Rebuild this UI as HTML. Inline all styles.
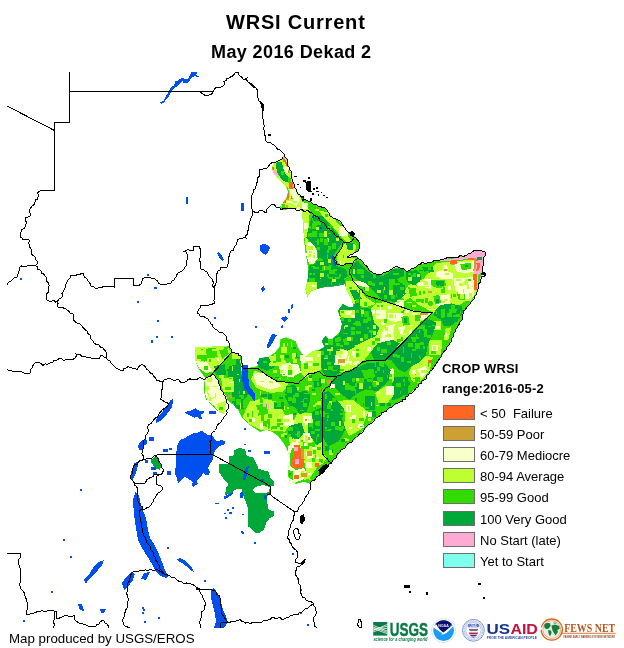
<!DOCTYPE html>
<html><head><meta charset="utf-8"><title>WRSI Current</title>
<style>
.t1,.t2,.lh,.lt,.ft,svg{will-change:transform}
html,body{margin:0;padding:0;background:#fff}
body{width:624px;height:648px;position:relative;overflow:hidden;font-family:"Liberation Sans",Arial,sans-serif;color:#000}
.t1{position:absolute;left:226px;top:9px;font-weight:bold;font-size:20px;letter-spacing:0.8px;line-height:26px;white-space:nowrap}
.t2{position:absolute;left:211px;top:40px;font-weight:bold;font-size:18px;letter-spacing:0.4px;line-height:24px;white-space:nowrap}
.lh{position:absolute;left:442px;font-weight:bold;font-size:13px;letter-spacing:0.2px;line-height:16px;white-space:nowrap}
.sw{position:absolute;left:443px;width:30px;height:13px;border:1px solid #6e6e6e}
.lt{position:absolute;left:480px;font-size:13px;line-height:16px;white-space:nowrap}
.ft{position:absolute;left:9px;top:631px;font-size:13.3px;line-height:16px;white-space:nowrap}
</style></head><body>
<svg width="624" height="648" viewBox="0 0 624 648" style="position:absolute;left:0;top:0" shape-rendering="crispEdges"><defs><clipPath id="land"><polygon points="283,156 286,158 288,163 290,170 292,176 293,182 295,188 297,192 300,195 303,198 308,201 312,203 318,206 325,208 328,212 332,217 338,220 342,224 345,228 348,232 352,234 356,238 359,242 360,247 358,251 354,253 350,255 347,257 350,257.5 355,256 358,258 361,260 364,264 368,268 372,272 376,274 382,274 386,272 392,269 398,267 402,268 406,271 410,270 414,268 418,265 424,263 430,262 436,261 440,260 444,259 450,258 456,257 462,256 468,254 472,252 475,250 478,250.5 482,251 485,252 485,256 483,260 483,266 482,272 480,280 479,286 477,292 475,296 472,301 468,306 465,310 462,315 462,320 458,326 455,332 452,338 450,343 446,350 440,358 432,370 424,380 416,388 408,396 400,402 392,407 384,412 376,418 370,424 364,430 358,436 352,442 346,446 340,452 336,458 332,462 328,466 324,470 320,474 316,478 312,481 310,484 304,482 296,484 290,482 288,476 288,468 290,460 288,452 284,444 278,436 272,432 266,430 260,432 254,428 248,424 242,418 238,410 232,404 227,400 224,414 218,412 212,406 206,400 204,392 204,384 205,378 198,368 195,360 195,347 228,346 229,346 232,352 238,353.5 241,356 243,368 247.7,368 257.3,366 259,358.5 269,356.5 274.6,352.7 279.4,347 280.4,339 286,337.3 295.8,341 297.7,347 301.5,352.7 305.4,356.5 313,350.8 319,350 324.6,347 321.7,341 325.6,335.4 330.4,341 334,337.3 340,331.5 342,324 340,318 338,310.4 343,303.7 347.7,306.5 353.5,306.5 351.5,299 346.7,291 344.8,284.4 336,286.3 324.6,287.3 317,289 311,291 307.3,297 305.4,289 307.3,281.5 308.3,270 307,262 305,250 304,240 303,225 302,212 300,210 296,208.5 290,208 286,210 282,210 280,207 282,203 285,200 287,196 288,192 286,187 283,183 279,180 276,176 273,172 272,168 273,164 277,162 281,160"/></clipPath></defs><g clip-path="url(#land)"><polygon points="283,156 286,158 288,163 290,170 292,176 293,182 295,188 297,192 300,195 303,198 308,201 312,203 318,206 325,208 328,212 332,217 338,220 342,224 345,228 348,232 352,234 356,238 359,242 360,247 358,251 354,253 350,255 347,257 350,257.5 355,256 358,258 361,260 364,264 368,268 372,272 376,274 382,274 386,272 392,269 398,267 402,268 406,271 410,270 414,268 418,265 424,263 430,262 436,261 440,260 444,259 450,258 456,257 462,256 468,254 472,252 475,250 478,250.5 482,251 485,252 485,256 483,260 483,266 482,272 480,280 479,286 477,292 475,296 472,301 468,306 465,310 462,315 462,320 458,326 455,332 452,338 450,343 446,350 440,358 432,370 424,380 416,388 408,396 400,402 392,407 384,412 376,418 370,424 364,430 358,436 352,442 346,446 340,452 336,458 332,462 328,466 324,470 320,474 316,478 312,481 310,484 304,482 296,484 290,482 288,476 288,468 290,460 288,452 284,444 278,436 272,432 266,430 260,432 254,428 248,424 242,418 238,410 232,404 227,400 224,414 218,412 212,406 206,400 204,392 204,384 205,378 198,368 195,360 195,347 228,346 229,346 232,352 238,353.5 241,356 243,368 247.7,368 257.3,366 259,358.5 269,356.5 274.6,352.7 279.4,347 280.4,339 286,337.3 295.8,341 297.7,347 301.5,352.7 305.4,356.5 313,350.8 319,350 324.6,347 321.7,341 325.6,335.4 330.4,341 334,337.3 340,331.5 342,324 340,318 338,310.4 343,303.7 347.7,306.5 353.5,306.5 351.5,299 346.7,291 344.8,284.4 336,286.3 324.6,287.3 317,289 311,291 307.3,297 305.4,289 307.3,281.5 308.3,270 307,262 305,250 304,240 303,225 302,212 300,210 296,208.5 290,208 286,210 282,210 280,207 282,203 285,200 287,196 288,192 286,187 283,183 279,180 276,176 273,172 272,168 273,164 277,162 281,160" fill="#32dc00" /><polygon points="423.8,278.6 435.9,263.0 453.2,261.3 474.0,259.6 478.3,278.6 477.5,290.7 470.5,301.1 465.3,301.1 460.2,304.6 449.8,306.3 441.1,308.0 435.9,313.2 432.5,312.4 418.6,304.6 410.0,297.7 404.8,301.1 401.3,295.9 408.2,285.5" fill="#beff32" /><polygon points="384.0,302.0 418.6,311.8 431.6,312.7 418.6,325.3 410.0,334.0 401.3,344.4 390.9,354.8 384.0,356.0" fill="#beff32" /><polygon points="435.9,271.7 443.7,270.0 453.2,273.4 453.2,278.6 444.6,279.5 435.9,277.7" fill="#f8ffc8" /><polygon points="453.2,263.0 474.0,261.3 474.0,271.7 465.3,273.4 456.7,271.7" fill="#f8ffc8" /><polygon points="453.2,278.6 474.0,276.9 474.0,295.9 467.1,299.4 460.2,295.9 455.0,289.0" fill="#f8ffc8" /><polygon points="434.2,295.9 449.8,294.2 450.6,305.4 441.1,307.2 435.1,303.7" fill="#f8ffc8" /><polygon points="423.8,278.6 430.7,279.5 430.7,289.0 424.7,287.3" fill="#f8ffc8" /><polygon points="387.5,313.2 403.0,313.2 404.8,320.2 394.4,321.9 387.5,320.2" fill="#f8ffc8" /><polygon points="397.8,327.1 411.7,325.3 412.6,333.1 401.3,335.7" fill="#f8ffc8" /><polygon points="419.5,313.2 430.7,312.9 423.8,320.2 419.5,319.3" fill="#f8ffc8" /><polygon points="384.0,325.3 392.7,327.1 394.4,340.9 387.5,346.1 384.0,346.1" fill="#f8ffc8" /><polygon points="430.7,279.5 444.6,279.5 446.3,285.5 441.1,288.1 434.2,287.3 430.7,284.7" fill="#32dc00" /><polygon points="460.2,263.9 470.5,263.0 471.4,269.1 461.9,270.0" fill="#32dc00" /><polygon points="408.2,287.3 416.0,288.1 416.9,295.9 410.0,296.8" fill="#32dc00" /><polygon points="433.3,295.9 439.4,295.1 441.1,302.8 435.1,304.6" fill="#32dc00" /><polygon points="456.7,293.3 464.5,294.2 465.3,300.2 458.4,299.4" fill="#32dc00" /><polygon points="401.3,316.7 408.2,315.8 410.0,325.3 403.0,326.2" fill="#32dc00" /><polygon points="384.0,275.2 390.9,273.4 396.1,276.9 397.8,281.2 404.8,285.5 405.6,294.2 400.4,299.4 396.1,297.7 392.7,301.1 387.5,299.4 384.0,301.1" fill="#00a83a" /><polygon points="406.5,271.7 416.9,270.0 421.2,275.2 420.3,281.2 414.3,285.5 408.2,282.9 405.6,278.6" fill="#00a83a" /><polygon points="422.1,267.4 432.5,266.5 434.2,271.7 425.5,273.4" fill="#00a83a" /><polygon points="435.9,281.2 443.7,281.2 443.7,286.4 436.8,286.4" fill="#00a83a" /><polygon points="440.9,304.9 451.3,303.4 461.6,306.4 463.1,312.3 457.2,321.2 451.3,325.6 443.9,325.6 440.9,319.7 433.5,315.3 435.0,310.8" fill="#00a83a" /><polygon points="427.6,316.7 430.5,325.6 427.6,334.5 426.1,344.9 421.6,352.3 415.7,358.2 406.8,361.2 397.9,355.3 392.0,355.3 392.0,353.0 409.8,334.5 421.6,321.2" fill="#00a83a" /><polygon points="430.5,321.2 440.9,321.2 440.9,330.1 430.5,330.1" fill="#beff32" /><polygon points="429.0,340.4 442.4,340.4 440.9,355.3 429.0,355.3" fill="#beff32" /><polygon points="432.0,344.9 437.9,344.9 437.9,350.8 432.0,350.8" fill="#f8ffc8" /><polygon points="445.3,328.6 451.3,327.1 448.3,340.4 443.9,340.4" fill="#beff32" /><polygon points="428.3,361.9 432.0,361.9 432.0,364.1 428.3,364.1" fill="#ff6622" /><polygon points="425.3,364.1 428.3,364.1 428.3,366.4 425.3,366.4" fill="#cda033" /><polygon points="384.0,340.9 390.9,347.8 390.9,356.0 384.0,356.0" fill="#00a83a" /><polygon points="472.3,250.9 477.5,249.2 484.4,251.3 485.2,257.0 482.7,259.6 483.5,266.5 481.8,272.6 478.3,274.3 476.6,271.7 479.2,266.5 478.8,261.3 475.7,258.7 472.3,257.8 467.1,258.7 458.4,260.4 452.4,261.3 444.6,261.3 439.4,260.4 441.1,259.2 453.2,258.7 465.3,256.1" fill="#ffaad2" /><polygon points="450.6,259.9 458.4,259.6 458.4,261.3 450.6,261.7" fill="#ff6622" /><polygon points="475.7,258.7 479.2,261.3 479.5,266.5 477.5,272.6 476.6,278.6 476.6,289.0 474.0,289.9 474.0,278.6 474.9,271.7 476.6,266.5 475.7,261.3" fill="#ff6622" /><polygon points="478.3,257.0 481.8,257.0 481.8,259.6 478.3,259.6" fill="#00a83a" /><polygon points="450.6,262.2 455.0,262.2 455.0,264.8 450.6,264.8" fill="#cda033" /><polygon points="443.7,269.1 447.2,269.1 447.2,270.8 443.7,270.8" fill="#cda033" /><polygon points="428.1,290.7 431.6,290.7 431.6,292.5 428.1,292.5" fill="#cda033" /><polygon points="419.5,313.2 428.1,313.2 428.1,315.0 421.2,315.0 421.2,318.4 419.5,318.4" fill="#cda033" /><polygon points="473.7,259.6 475.7,259.6 475.7,271.7 474.0,271.7" fill="#cda033" /><polygon points="375.8,303.5 387.9,301.7 387.9,345.0 379.3,345.0 374.1,341.5 379.3,327.7 374.1,322.5 370.6,308.7" fill="#beff32" /><polygon points="336.0,350.2 346.4,348.5 356.8,345.0 367.2,339.8 375.8,336.3 377.5,343.3 370.6,351.9 363.7,360.6 353.3,368.4 346.4,371.0 336.0,375.3" fill="#beff32" /><polygon points="412.2,365.8 426.0,355.4 432.9,357.1 429.5,371.0 419.1,383.1 412.2,381.3 408.7,372.7" fill="#beff32" /><polygon points="384.5,369.2 393.1,367.5 394.8,381.3 386.2,383.1" fill="#beff32" /><polygon points="367.2,376.2 375.8,381.3 379.3,393.5 370.6,390.0 363.7,386.5" fill="#beff32" /><polygon points="336.0,396.9 346.4,396.9 353.3,407.3 346.4,412.0 336.0,412.0" fill="#beff32" /><polygon points="375.8,310.4 386.2,310.4 386.2,319.0 375.8,319.0" fill="#f8ffc8" /><polygon points="386.2,326.0 394.8,324.2 393.1,334.6 387.9,343.3 379.3,345.0 381.0,334.6" fill="#f8ffc8" /><polygon points="336.0,350.2 346.4,350.2 346.4,357.1 336.0,357.1" fill="#f8ffc8" /><polygon points="386.2,369.2 391.4,368.4 392.2,374.4 387.1,375.3" fill="#f8ffc8" /><polygon points="417.3,369.2 426.0,365.8 427.7,372.7 420.8,377.9" fill="#f8ffc8" /><polygon points="339.5,319.0 353.3,317.3 356.8,306.9 370.6,308.7 374.1,322.5 379.3,327.7 375.8,336.3 367.2,339.8 356.8,345.0 346.4,346.7 336.0,348.5 336.0,338.1 341.2,331.2" fill="#00a83a" /><polygon points="336.0,306.9 342.9,303.5 346.4,310.4 339.5,315.6 336.0,313.8" fill="#00a83a" /><polygon points="377.5,343.3 393.1,339.8 400.0,343.3 393.1,351.9 384.5,360.6 374.1,359.7 370.6,351.9" fill="#00a83a" /><polygon points="336.0,376.2 346.4,371.8 353.3,369.2 362.0,362.3 370.6,360.6 384.5,360.9 387.9,369.2 384.5,376.2 375.8,381.3 367.2,376.2 360.2,381.3 353.3,390.0 346.4,396.9 339.5,393.5 336.0,396.9" fill="#00a83a" /><polygon points="353.3,393.5 363.7,386.5 375.8,383.1 379.3,393.5 374.1,403.8 363.7,407.3 356.8,403.8" fill="#00a83a" /><polygon points="386.2,361.4 393.1,351.9 405.2,339.8 412.2,332.9 419.1,326.0 429.5,319.0 436.4,322.5 432.9,334.6 427.7,345.0 426.0,355.4 419.1,362.3 412.2,365.8 405.2,372.7 398.3,369.2 393.1,362.3" fill="#00a83a" /><polygon points="393.1,381.3 405.2,376.2 410.4,383.1 401.8,396.9 393.1,400.4 387.9,393.5" fill="#00a83a" /><polygon points="338.6,358.8 344.7,358.8 344.7,363.2 338.6,363.2" fill="#cda033" /><polygon points="427.7,359.7 432.1,359.7 432.1,363.2 427.7,363.2" fill="#ff6622" /><polygon points="254.5,370.6 266.6,374.9 277.0,381.3 289.1,382.4 283.9,391.4 270.1,393.1 256.2,387.9 251.0,379.3" fill="#beff32" /><polygon points="249.3,401.8 263.2,398.3 277.0,401.8 283.9,412.2 283.9,429.5 277.0,431.2 259.7,429.5 249.3,424.3 242.4,417.3" fill="#beff32" /><polygon points="297.8,412.2 308.2,413.9 322.0,412.2 322.0,448.0 290.8,448.0 289.1,439.8 290.8,426.0" fill="#beff32" /><polygon points="273.5,353.3 282.2,356.8 287.4,363.7 278.7,365.4 273.5,362.0" fill="#beff32" /><polygon points="301.2,363.7 316.8,362.0 320.3,371.5 313.3,373.2 304.7,378.4 301.2,372.3" fill="#beff32" /><polygon points="232.0,353.3 239.8,353.3 240.7,362.0 243.2,368.0 242.4,370.6 232.0,370.6" fill="#beff32" /><polygon points="278.7,365.4 297.8,363.7 301.2,372.3 290.8,377.5 280.5,374.1" fill="#f8ffc8" /><polygon points="299.5,355.0 315.1,353.3 316.8,362.0 301.2,363.7" fill="#f8ffc8" /><polygon points="252.8,374.1 263.2,372.3 277.0,381.9 282.2,386.2 270.1,389.7 256.2,384.5" fill="#f8ffc8" /><polygon points="282.2,415.6 292.6,413.9 294.3,426.0 283.9,427.7" fill="#f8ffc8" /><polygon points="334.1,355.0 340.0,355.0 340.0,365.4 334.1,365.4" fill="#f8ffc8" /><polygon points="328.9,382.7 335.8,381.0 335.8,387.9 330.7,387.9" fill="#f8ffc8" /><polygon points="258.0,356.8 271.8,356.8 275.3,367.2 266.6,370.6 258.0,367.2" fill="#00a83a" /><polygon points="232.0,370.6 240.7,370.6 241.5,381.0 249.3,393.1 242.4,401.8 232.0,403.5" fill="#00a83a" /><polygon points="318.5,339.5 328.9,336.0 340.0,336.0 340.0,353.3 334.1,355.0 334.1,365.4 340.0,365.4 340.0,373.2 335.8,376.2 325.5,375.8 322.0,370.6 318.5,353.3" fill="#00a83a" /><polygon points="323.7,393.1 340.0,393.1 340.0,408.7 325.5,408.7 326.3,417.3 340.0,417.3 340.0,448.0 323.7,448.0" fill="#00a83a" /><polygon points="286.3,386.3 295.2,384.8 298.1,392.2 307.0,390.7 310.0,399.6 307.0,411.5 299.6,414.4 295.2,407.0 289.3,405.6 284.8,396.7" fill="#00a83a" /><polygon points="313.0,378.9 320.4,377.4 321.9,386.3 314.4,387.8" fill="#00a83a" /><polygon points="304.1,413.0 314.4,413.0 314.4,429.3 305.6,429.3" fill="#beff32" /><polygon points="270.0,418.9 284.8,414.4 289.3,424.8 284.8,432.2 277.4,429.3 270.0,429.3" fill="#beff32" /><polygon points="308.2,419.1 322.0,415.6 322.0,432.9 315.1,439.8 308.2,432.9" fill="#00a83a" /><polygon points="289.1,426.0 301.2,422.5 304.7,432.9 297.8,439.8 289.1,436.4" fill="#00a83a" /><polygon points="256.2,405.2 266.6,403.5 268.3,413.9 258.0,415.6" fill="#32dc00" /><polygon points="266.6,419.1 277.0,417.3 278.7,427.7 268.3,428.6" fill="#32dc00" /><polygon points="301.2,439.8 308.2,439.8 308.2,448.0 301.2,448.0" fill="#32dc00" /><polygon points="263.2,402.6 265.7,402.6 265.7,407.0 263.2,407.0" fill="#ffaad2" /><polygon points="267.5,404.4 269.2,404.4 269.2,410.4 267.5,410.4" fill="#ffaad2" /><polygon points="327.2,380.1 331.5,380.1 331.5,383.6 327.2,383.6" fill="#cda033" /><polygon points="304.7,419.1 308.2,419.1 308.2,420.8 304.7,420.8" fill="#cda033" /><polygon points="307.3,436.4 309.9,436.4 309.9,439.8 307.3,439.8" fill="#cda033" /><polygon points="337.6,358.5 340.0,358.5 340.0,363.7 337.6,363.7" fill="#cda033" /><polygon points="318.5,388.8 322.0,388.8 322.0,391.0 318.5,391.0" fill="#ff6622" /><polygon points="294.3,445.0 299.5,445.0 299.5,448.0 294.3,448.0" fill="#ff6622" /><polygon points="195.2,346.9 227.2,346.1 231.5,353.0 212.5,372.0 205.6,372.9 199.5,368.6 195.2,360.8" fill="#beff32" /><polygon points="205.6,348.7 216.0,347.8 217.7,357.3 207.3,358.2" fill="#32dc00" /><polygon points="219.4,350.4 227.2,348.7 228.9,353.8 222.0,359.0" fill="#32dc00" /><polygon points="195.2,360.8 207.3,362.5 212.5,371.2 205.6,372.9 199.5,368.6" fill="#f8ffc8" /><polygon points="205.6,378.9 212.5,373.7 218.6,380.7 220.3,388.5 224.6,393.7 227.2,398.8 228.1,409.2 224.6,416.2 219.4,412.7 214.2,405.8 207.3,400.6 204.7,391.9" fill="#f8ffc8" /><polygon points="216.0,404.0 227.2,400.6 228.1,409.2 224.6,416.2 219.4,412.7" fill="#beff32" /><polygon points="231.5,359.0 240.2,359.0 241.1,371.2 233.3,372.0" fill="#00a83a" /><polygon points="235.0,374.6 241.9,374.6 243.7,390.2 236.7,390.2" fill="#00a83a" /><polygon points="233.3,398.8 241.9,398.8 243.7,409.2 235.0,409.2" fill="#00a83a" /><polygon points="214.2,366.0 224.6,364.2 226.3,374.6 216.0,375.5" fill="#00a83a" /><polygon points="221.2,378.1 233.3,377.2 234.1,391.9 222.9,391.9" fill="#beff32" /><polygon points="231.5,353.8 240.2,353.8 240.2,359.0 231.5,359.0" fill="#beff32" /><polygon points="228.1,394.5 232.4,394.5 232.4,398.0 228.1,398.0" fill="#cda033" /><polygon points="270.0,416.0 283.8,416.0 287.3,426.3 276.9,430.7 270.0,429.8" fill="#beff32" /><polygon points="304.6,440.2 321.9,440.2 321.9,450.6 327.1,458.4 321.9,464.4 311.5,466.2 304.6,459.2" fill="#beff32" /><polygon points="327.1,400.4 339.2,402.1 335.8,414.2 323.7,416.0" fill="#beff32" /><polygon points="346.2,403.8 360.0,400.4 366.9,410.8 356.5,424.6 346.2,419.4" fill="#beff32" /><polygon points="286.4,476.5 302.9,471.3 311.5,480.0 304.6,478.3 296.0,482.6 290.8,484.3" fill="#beff32" /><polygon points="300.0,442.0 316.0,444.0 318.0,466.0 310.0,478.0 304.0,480.0 306.0,470.0 304.0,460.0" fill="#beff32" /><polygon points="287.5,447.0 292.0,442.0 298.0,442.0 300.0,446.0 292.0,448.0 290.0,455.0 290.0,466.0 296.0,470.0 304.0,468.0 306.0,472.0 303.0,480.0 291.0,483.0 287.5,476.5 288.0,468.0" fill="#f8ffc8" /><polygon points="306.0,452.0 312.0,452.0 313.0,458.0 307.0,459.0" fill="#f8ffc8" /><polygon points="306.0,462.0 312.0,462.0 312.0,468.0 306.0,468.0" fill="#f8ffc8" /><polygon points="283.0,416.0 292.5,416.0 292.5,424.6 283.8,426.3" fill="#f8ffc8" /><polygon points="302.9,416.0 313.3,416.0 313.3,422.9 302.9,422.9" fill="#f8ffc8" /><polygon points="302.9,433.3 311.5,433.3 311.5,441.9 302.9,441.9" fill="#f8ffc8" /><polygon points="347.9,405.6 354.8,405.6 354.8,412.5 347.9,412.5" fill="#f8ffc8" /><polygon points="366.9,410.8 373.8,409.0 373.8,416.0 366.9,417.7" fill="#f8ffc8" /><polygon points="356.5,424.6 363.5,422.9 363.5,428.1 356.5,428.9" fill="#f8ffc8" /><polygon points="311.5,412.5 321.9,407.3 321.9,441.9 316.7,445.4 309.8,435.0 311.5,422.9" fill="#00a83a" /><polygon points="289.0,426.3 301.2,424.6 302.9,435.0 292.5,438.5 288.2,433.3" fill="#00a83a" /><polygon points="323.7,393.5 328.8,400.4 327.1,400.4 323.7,416.0 335.8,414.2 339.2,402.1 342.7,390.0 366.9,390.0 373.8,400.4 366.9,410.8 360.0,400.4 346.2,403.8 346.2,419.4 356.5,424.6 353.1,424.6 351.3,431.5 342.7,435.0 339.2,447.1 330.6,454.0 323.7,450.6" fill="#00a83a" /><polygon points="296.0,393.5 309.8,393.5 309.8,400.4 296.0,400.4" fill="#00a83a" /><polygon points="273.5,402.1 283.8,402.1 283.8,409.0 273.5,409.0" fill="#00a83a" /><polygon points="287.3,469.6 292.5,471.3 292.5,480.0 287.3,476.5" fill="#32dc00" /><polygon points="294.2,445.4 300.3,445.4 301.2,455.8 304.6,459.2 302.9,467.9 296.0,468.7 291.6,466.2 291.6,459.2 294.2,454.0" fill="#ff6622" /><polygon points="294.2,447.1 297.7,447.1 297.7,450.6 294.2,450.6" fill="#ffaad2" /><polygon points="295.1,459.2 299.4,459.2 299.4,463.6 295.1,463.6" fill="#ffaad2" /><polygon points="315.0,462.7 318.5,462.7 318.5,467.0 315.0,467.0" fill="#ff6622" /><polygon points="294.2,474.8 298.6,474.8 298.6,479.1 294.2,479.1" fill="#ff6622" /><polygon points="290.8,482.6 292.5,482.6 292.5,485.2 290.8,485.2" fill="#ffaad2" /><polygon points="307.2,451.4 311.5,451.4 311.5,455.8 307.2,455.8" fill="#cda033" /><polygon points="301.2,448.8 303.7,448.8 303.7,459.2 301.2,459.2" fill="#cda033" /><polygon points="304.6,418.6 307.2,418.6 307.2,421.2 304.6,421.2" fill="#cda033" /><polygon points="308.1,436.7 310.2,436.7 310.2,440.2 308.1,440.2" fill="#cda033" /><polygon points="301.2,473.1 307.2,473.1 307.2,476.5 301.2,476.5" fill="#cda033" /><polygon points="301.2,200.0 309.8,210.4 308.1,239.8 306.4,251.9 302.9,226.0 302.1,210.4" fill="#beff32" /><polygon points="302.9,269.2 311.6,283.1 318.5,286.5 311.6,291.7 307.2,297.8 304.7,290.0 306.4,276.2" fill="#beff32" /><polygon points="339.3,250.2 346.2,241.5 356.6,245.0 354.8,251.9 346.2,257.1 356.6,258.8 353.1,264.0 339.3,264.9 336.7,258.8" fill="#beff32" /><polygon points="318.5,210.4 327.2,212.1 337.5,222.5 346.2,232.9 351.4,241.5 346.2,241.5 339.3,234.6 330.6,224.2 322.0,215.6" fill="#beff32" /><polygon points="346.2,281.3 354.8,281.3 365.2,296.9 375.6,303.8 365.2,307.3 353.1,303.8 347.9,298.7 346.2,290.0" fill="#beff32" /><polygon points="339.3,226.0 347.9,226.0 347.9,236.3 339.3,236.3" fill="#f8ffc8" /><polygon points="307.2,241.5 313.3,243.3 316.8,250.2 317.6,258.8 313.3,264.0 309.0,264.0 306.4,255.4" fill="#f8ffc8" /><polygon points="354.8,281.3 365.2,281.3 372.2,286.5 365.2,287.4 356.6,284.8" fill="#f8ffc8" /><polygon points="392.9,298.7 404.0,300.4 404.0,307.3 396.4,305.6" fill="#f8ffc8" /><polygon points="301.2,201.7 308.1,203.5 308.1,208.7 302.1,208.7" fill="#f8ffc8" /><polygon points="311.6,217.3 322.0,215.6 330.6,226.0 339.3,236.3 342.7,241.5 335.8,251.9 332.3,257.1 335.8,265.8 346.2,269.2 347.9,276.2 342.7,279.6 335.8,283.1 327.2,284.8 318.5,286.5 311.6,283.1 308.1,276.2 309.0,265.8 315.0,264.0 318.5,257.1 316.8,248.5 311.6,243.3 306.4,238.1 308.1,229.4" fill="#00a83a" /><polygon points="351.4,267.5 356.6,260.6 365.2,269.2 372.2,274.4 384.3,276.2 392.9,269.2 404.0,269.2 404.0,276.2 394.7,279.6 392.9,291.7 399.8,296.9 396.4,302.1 382.5,300.4 375.6,293.5 365.2,283.1 356.6,279.6 351.4,274.4" fill="#00a83a" /><polygon points="349.7,290.0 356.6,290.0 361.8,298.7 354.8,300.4" fill="#00a83a" /><polygon points="346.2,243.3 353.1,243.3 353.1,250.2 347.9,250.2" fill="#00a83a" /><polygon points="322.0,265.8 330.6,265.8 330.6,274.4 322.0,274.4" fill="#32dc00" /><polygon points="282.8,155.8 285.1,156.9 288.0,162.7 290.4,168.5 292.7,175.5 293.8,183.6 297.3,190.5 300.8,196.3 302.5,210.2 294.4,209.0 284.0,209.0 280.5,206.7 281.7,204.4 284.0,199.8 288.0,196.3 289.2,190.5 286.3,188.2 283.4,184.7 280.5,181.2 277.0,177.8 272.4,173.1 271.8,167.4 273.6,162.7 279.4,161.0" fill="#beff32" /><polygon points="288.6,176.6 290.9,178.9 290.9,182.4 288.0,183.6 286.9,180.1" fill="#32dc00" /><polygon points="290.9,192.8 295.6,194.0 295.6,198.6 291.5,198.6" fill="#32dc00" /><polygon points="281.7,204.4 285.1,204.4 285.7,208.4 282.3,208.4" fill="#32dc00" /><polygon points="276.5,162.7 281.7,161.6 283.4,168.5 285.1,173.1 288.6,177.8 287.5,182.4 284.0,181.2 280.5,177.8 277.6,173.1 275.9,167.4" fill="#00a83a" /><polygon points="282.3,155.8 285.1,155.8 285.1,158.7 282.3,158.7" fill="#ffaad2" /><polygon points="272.4,169.7 275.3,169.7 277.0,173.1 277.6,176.6 274.7,174.9 272.4,172.6" fill="#ffaad2" /><polygon points="282.8,158.1 285.1,158.7 286.9,162.7 288.0,166.2 286.9,167.4 285.1,162.7 282.8,161.6" fill="#ff6622" /><polygon points="271.8,167.4 273.6,167.4 273.6,170.3 271.8,170.3" fill="#ff6622" /><polygon points="289.2,182.4 292.7,181.8 293.8,188.2 290.9,189.9 288.6,188.2" fill="#ff6622" /><polygon points="290.9,174.9 292.7,174.9 292.7,178.4 290.9,178.4" fill="#ff6622" /><polygon points="286.9,192.8 289.2,192.8 289.2,197.5 286.9,197.5" fill="#ff6622" /><polygon points="283.4,199.8 285.7,199.8 285.7,202.7 283.4,202.7" fill="#ff6622" /><polygon points="284.0,167.4 288.6,167.4 290.4,173.1 286.9,173.1 284.6,170.8" fill="#f8ffc8" /><polygon points="289.8,189.4 295.6,189.4 296.7,194.0 299.0,196.3 300.2,200.9 296.7,205.6 292.1,204.4 293.2,198.6 290.9,195.1 289.8,191.7" fill="#f8ffc8" /><polygon points="288.0,170.3 290.4,170.3 290.4,172.6 288.0,172.6" fill="#cda033" /><polygon points="285.7,187.0 288.0,187.0 288.0,188.8 285.7,188.8" fill="#cda033" /><polygon points="285.7,205.0 288.0,205.0 288.0,207.9 285.7,207.9" fill="#cda033" /><polygon points="285.7,198.0 288.6,198.0 288.6,200.3 285.7,200.3" fill="#cda033" /><polygon points="308.3,270.0 343.8,270.0 344.8,284.4 336.2,286.3 324.6,287.3 316.9,289.2 311.2,291.2 307.3,296.9 305.4,289.2 307.3,281.5" fill="#00a83a" /><polygon points="305.4,281.5 316.9,281.5 316.9,295.0 307.3,296.9 305.4,289.2" fill="#beff32" /><polygon points="342.9,303.7 347.7,306.5 353.5,306.5 360.0,289.2 360.0,335.4 347.7,337.3 340.0,331.5 341.9,323.8 340.0,318.1 338.1,310.4" fill="#00a83a" /><polygon points="340.0,310.4 355.4,310.4 355.4,318.1 340.0,318.1" fill="#beff32" /><polygon points="321.7,341.2 325.6,335.4 330.4,341.2 340.0,333.5 347.7,337.3 355.4,346.9 347.7,350.8 336.2,346.9 334.2,366.2 324.6,366.2 322.7,356.5 318.8,349.8" fill="#00a83a" /><polygon points="336.2,350.8 347.7,350.8 349.6,362.3 343.8,366.2 336.2,362.3" fill="#f8ffc8" /><polygon points="338.1,358.5 344.8,358.5 344.8,363.3 338.1,363.3" fill="#cda033" /><polygon points="305.4,350.8 320.8,350.8 320.8,370.0 305.4,370.0" fill="#beff32" /><polygon points="268.8,356.5 284.2,354.6 284.2,366.2 268.8,366.2" fill="#beff32" /><polygon points="278.5,366.2 290.0,362.3 297.7,370.0 293.8,377.7 282.3,375.8" fill="#f8ffc8" /><polygon points="299.6,356.5 313.1,356.5 313.1,361.3 299.6,361.3" fill="#f8ffc8" /><polygon points="259.2,358.5 268.8,356.5 270.8,362.3 261.2,366.2" fill="#00a83a" /><polygon points="473.8,261.4 481.9,261.4 482.5,269.4 480.7,272.9 478.4,275.2 473.8,275.8 474.4,270.6 476.1,268.3" fill="#ffaad2" /><polygon points="476.1,262.5 479.6,263.1 480.2,267.1 478.4,270.6 476.1,270.6 477.3,267.1" fill="#ff6622" /><polygon points="473.3,274.1 477.3,274.6 476.7,290.2 474.4,289.6 473.6,282.1" fill="#ff6622" /><polygon points="450.2,260.8 457.1,260.8 457.1,264.3 450.2,264.3" fill="#ff6622" /><polygon points="468.1,257.9 472.7,257.9 472.7,259.6 468.1,259.6" fill="#ff6622" /><polygon points="473.8,257.9 475.6,257.9 476.1,266.0 474.4,270.6 473.3,270.6 474.4,264.8" fill="#cda033" /><polygon points="477.3,256.8 481.3,256.8 481.3,259.6 477.3,259.6" fill="#00a83a" /><polygon points="335.3,375.9 340.5,372.5 352.6,369.9 363.0,362.9 375.1,360.3 392.4,360.0 392.4,405.0 369.9,418.8 352.6,436.2 331.8,462.1 322.7,453.5 322.7,392.4 328.4,386.3" fill="#32dc00" /><polygon points="328.4,401.5 352.6,399.8 368.2,411.9 361.3,429.2 349.2,436.2 344.0,425.8 345.7,411.9 335.3,406.7" fill="#beff32" /><polygon points="375.1,392.9 385.5,386.0 394.2,394.6 387.2,403.3 378.6,403.3" fill="#beff32" /><polygon points="345.7,405.0 350.9,405.0 350.9,411.9 345.7,411.9" fill="#f8ffc8" /><polygon points="357.8,424.0 363.0,424.0 363.0,427.5 357.8,427.5" fill="#f8ffc8" /><polygon points="368.2,411.9 371.7,411.9 371.7,417.1 368.2,417.1" fill="#f8ffc8" /><polygon points="383.8,368.7 394.2,368.7 394.2,373.8 383.8,373.8" fill="#f8ffc8" /><polygon points="385.5,386.0 394.2,386.0 394.2,394.6 385.5,394.6" fill="#f8ffc8" /><polygon points="337.0,375.6 352.6,369.5 366.5,363.5 383.8,361.7 390.7,370.4 387.2,382.5 376.8,391.2 366.5,389.4 357.8,392.9 349.2,399.8 342.2,394.6 335.3,387.7 330.1,389.4 328.4,386.0 335.3,375.9" fill="#00a83a" /><polygon points="361.3,370.4 373.4,368.7 375.1,377.3 364.7,379.0" fill="#32dc00" /><polygon points="323.2,392.9 328.4,391.2 335.3,398.1 344.0,408.5 342.2,418.8 345.7,429.2 338.8,441.3 328.4,446.5 323.2,437.9" fill="#00a83a" /><polygon points="364.7,396.3 375.1,396.3 375.1,410.2 364.7,410.2" fill="#00a83a" /><polygon points="394.2,377.3 408.0,377.3 408.0,394.6 394.2,394.6" fill="#00a83a" /><polygon points="328.4,380.8 331.8,379.9 331.8,383.4 328.4,384.2" fill="#cda033" /><polygon points="330.1,384.2 335.3,383.4 335.3,387.7 330.1,388.6" fill="#f8ffc8" /></g><path fill="#f8ffc8" d="M286.67 200.67h5.33v2.67h-5.33zM297.33 207.33h2.67v1.33h-2.67zM304 223.33h4.00v5.33h-4.00zM340 260.67h1.33v4.00h-1.33zM442.67 264.67h4.00v2.67h-4.00zM442.67 267.33h5.33v1.33h-5.33zM418.67 282h5.33v4.00h-5.33zM417.33 283.33h5.33v2.67h-5.33zM312 284.67h4.00v2.67h-4.00zM448 286h2.67v4.00h-2.67zM388 306h4.00v2.67h-4.00zM380 307.33h1.33v2.67h-1.33zM428 308.67h2.67v1.33h-2.67zM433.33 308.67h2.67v1.33h-2.67zM350.67 310h1.33v2.67h-1.33zM353.33 310h1.33v1.33h-1.33zM372 310h2.67v4.00h-2.67zM405.33 310h4.00v2.67h-4.00zM345.33 311.33h5.33v4.00h-5.33zM412 312.67h5.33v2.67h-5.33zM350.67 315.33h4.00v2.67h-4.00zM382.67 320.67h5.33v2.67h-5.33zM381.33 322h4.00v2.67h-4.00zM436 326h4.00v2.67h-4.00zM445.33 332.67h1.33v4.00h-1.33zM438.67 344.67h1.33v2.67h-1.33zM366.67 347.33h4.00v4.00h-4.00zM352 351.33h4.00v4.00h-4.00zM317.33 354h2.67v2.67h-2.67zM353.33 355.33h2.67v2.67h-2.67zM217.33 358h1.33v2.67h-1.33zM349.33 360.67h2.67v4.00h-2.67zM354.67 360.67h4.00v2.67h-4.00zM353.33 362h4.00v2.67h-4.00zM308 363.33h4.00v2.67h-4.00zM412 370h4.00v4.00h-4.00zM229.33 382h4.00v1.33h-4.00zM377.33 391.33h2.67v1.33h-2.67zM362.67 411.33h2.67v5.33h-2.67zM250.67 412.67h2.67v1.33h-2.67zM278.67 415.33h1.33v4.00h-1.33zM352 415.33h4.00v4.00h-4.00zM349.33 416.67h4.00v2.67h-4.00zM250.67 418h4.00v4.00h-4.00zM294.67 419.33h1.33v2.67h-1.33zM260 423.33h2.67v5.33h-2.67zM305.33 423.33h2.67v1.33h-2.67zM254.67 424.67h2.67v1.33h-2.67zM349.33 427.33h2.67v1.33h-2.67zM296 439.33h4.00v2.67h-4.00zM304 443.33h2.67v2.67h-2.67zM312 447.33h5.33v1.33h-5.33zM316 456.67h2.67v2.67h-2.67zM470.67 470h2.67v4.00h-2.67zM465.33 471.33h5.33v4.00h-5.33zM308 472.67h4.00v2.67h-4.00zM458.67 472.67h4.00v5.33h-4.00z"/><path fill="#beff32" d="M293.33 200.67h4.00v2.67h-4.00zM306.67 206h1.33v1.33h-1.33zM314.67 208.67h4.00v2.67h-4.00zM316 227.33h2.67v2.67h-2.67zM324 231.33h2.67v5.33h-2.67zM326.67 238h2.67v4.00h-2.67zM336 238h2.67v2.67h-2.67zM308 246h5.33v4.00h-5.33zM309.33 251.33h2.67v1.33h-2.67zM313.33 252.67h1.33v1.33h-1.33zM308 254h2.67v2.67h-2.67zM313.33 255.33h1.33v2.67h-1.33zM328 259.33h2.67v4.00h-2.67zM320 262h4.00v2.67h-4.00zM324 266h1.33v4.00h-1.33zM353.33 268.67h1.33v5.33h-1.33zM320 272.67h4.00v4.00h-4.00zM445.33 272.67h4.00v2.67h-4.00zM417.33 274h2.67v2.67h-2.67zM408 276.67h4.00v4.00h-4.00zM436 276.67h2.67v1.33h-2.67zM320 278h1.33v1.33h-1.33zM332 279.33h4.00v2.67h-4.00zM456 279.33h5.33v1.33h-5.33zM465.33 279.33h2.67v4.00h-2.67zM424 280.67h4.00v4.00h-4.00zM464 280.67h4.00v4.00h-4.00zM458.67 283.33h4.00v2.67h-4.00zM466.67 284.67h2.67v4.00h-2.67zM425.33 286h4.00v1.33h-4.00zM472 286h1.33v1.33h-1.33zM365.33 287.33h4.00v4.00h-4.00zM384 287.33h1.33v2.67h-1.33zM462.67 288.67h1.33v4.00h-1.33zM377.33 290h4.00v2.67h-4.00zM389.33 290h4.00v5.33h-4.00zM469.33 292.67h2.67v4.00h-2.67zM402.67 294h1.33v1.33h-1.33zM460 294h4.00v5.33h-4.00zM444 299.33h2.67v1.33h-2.67zM397.33 300.67h2.67v2.67h-2.67zM441.33 300.67h4.00v2.67h-4.00zM406.67 302h5.33v1.33h-5.33zM412 304.67h4.00v2.67h-4.00zM361.33 310h2.67v4.00h-2.67zM376 314h4.00v1.33h-4.00zM389.33 314h4.00v4.00h-4.00zM394.67 315.33h1.33v2.67h-1.33zM345.33 324.67h2.67v2.67h-2.67zM373.33 324.67h2.67v4.00h-2.67zM404 324.67h4.00v1.33h-4.00zM344 326h1.33v2.67h-1.33zM405.33 326h5.33v4.00h-5.33zM385.33 327.33h2.67v4.00h-2.67zM404 328.67h5.33v5.33h-5.33zM373.33 331.33h2.67v4.00h-2.67zM402.67 331.33h5.33v2.67h-5.33zM386.67 334h4.00v1.33h-4.00zM385.33 335.33h5.33v1.33h-5.33zM346.67 336.67h4.00v4.00h-4.00zM360 338h2.67v2.67h-2.67zM382.67 340.67h1.33v1.33h-1.33zM290.67 342h1.33v5.33h-1.33zM282.67 343.33h2.67v4.00h-2.67zM286.67 343.33h1.33v2.67h-1.33zM325.33 343.33h4.00v1.33h-4.00zM433.33 346h2.67v4.00h-2.67zM281.33 347.33h5.33v5.33h-5.33zM330.67 347.33h2.67v4.00h-2.67zM212 348.67h4.00v2.67h-4.00zM326.67 348.67h4.00v2.67h-4.00zM336 351.33h2.67v4.00h-2.67zM340 351.33h2.67v2.67h-2.67zM292 352.67h4.00v4.00h-4.00zM340 354h1.33v4.00h-1.33zM380 354h2.67v1.33h-2.67zM338.67 355.33h2.67v1.33h-2.67zM346.67 355.33h1.33v2.67h-1.33zM292 356.67h2.67v2.67h-2.67zM324 358h4.00v1.33h-4.00zM345.33 358h1.33v2.67h-1.33zM293.33 359.33h4.00v4.00h-4.00zM288 364.67h4.00v5.33h-4.00zM324 368.67h2.67v1.33h-2.67zM273.33 370h4.00v2.67h-4.00zM280 370h2.67v2.67h-2.67zM292 370h1.33v4.00h-1.33zM421.33 370h5.33v2.67h-5.33zM237.33 374h1.33v1.33h-1.33zM218.67 375.33h5.33v2.67h-5.33zM210.67 376.67h1.33v2.67h-1.33zM308 376.67h4.00v4.00h-4.00zM389.33 376.67h2.67v2.67h-2.67zM206.67 378h5.33v4.00h-5.33zM278.67 378h2.67v1.33h-2.67zM286.67 378h1.33v1.33h-1.33zM356 378h2.67v2.67h-2.67zM238.67 379.33h1.33v2.67h-1.33zM321.33 379.33h4.00v4.00h-4.00zM261.33 380.67h2.67v1.33h-2.67zM269.33 380.67h4.00v2.67h-4.00zM342.67 380.67h2.67v4.00h-2.67zM373.33 380.67h5.33v4.00h-5.33zM358.67 383.33h4.00v5.33h-4.00zM308 384.67h4.00v2.67h-4.00zM205.33 386h2.67v5.33h-2.67zM208 386h1.33v4.00h-1.33zM213.33 386h4.00v1.33h-4.00zM305.33 386h2.67v4.00h-2.67zM297.33 387.33h1.33v2.67h-1.33zM308 387.33h1.33v4.00h-1.33zM206.67 391.33h1.33v2.67h-1.33zM242.67 391.33h2.67v2.67h-2.67zM260 391.33h1.33v4.00h-1.33zM208 392.67h1.33v4.00h-1.33zM214.67 392.67h1.33v5.33h-1.33zM312 392.67h4.00v2.67h-4.00zM334.67 392.67h5.33v2.67h-5.33zM209.33 396.67h2.67v4.00h-2.67zM213.33 396.67h1.33v1.33h-1.33zM212 398h1.33v1.33h-1.33zM317.33 400.67h4.00v4.00h-4.00zM329.33 400.67h2.67v4.00h-2.67zM370.67 402h1.33v4.00h-1.33zM240 403.33h1.33v5.33h-1.33zM314.67 403.33h5.33v1.33h-5.33zM313.33 404.67h2.67v2.67h-2.67zM376 404.67h2.67v1.33h-2.67zM284 406h1.33v4.00h-1.33zM348 406h1.33v5.33h-1.33zM286.67 407.33h2.67v1.33h-2.67zM257.33 410h1.33v2.67h-1.33zM368 418h2.67v2.67h-2.67zM284 419.33h5.33v2.67h-5.33zM308 419.33h1.33v1.33h-1.33zM310.67 419.33h1.33v2.67h-1.33zM312 419.33h1.33v4.00h-1.33zM338.67 420.67h2.67v5.33h-2.67zM282.67 432.67h4.00v2.67h-4.00zM281.33 434h2.67v2.67h-2.67zM305.33 435.33h1.33v2.67h-1.33zM305.33 438h2.67v4.00h-2.67zM344 438h2.67v1.33h-2.67zM345.33 439.33h4.00v1.33h-4.00zM446.67 448.67h5.33v1.33h-5.33zM465.33 448.67h1.33v2.67h-1.33zM329.33 450h4.00v5.33h-4.00zM457.33 450h4.00v4.00h-4.00zM470.67 450h1.33v4.00h-1.33zM446.67 451.33h5.33v2.67h-5.33zM458.67 455.33h2.67v2.67h-2.67zM469.33 458h2.67v2.67h-2.67zM301.33 471.33h2.67v1.33h-2.67zM300 472.67h1.33v5.33h-1.33z"/><path fill="#32dc00" d="M281.33 171.33h2.67v4.00h-2.67zM325.33 214h2.67v2.67h-2.67zM312 218h1.33v2.67h-1.33zM313.33 220.67h4.00v5.33h-4.00zM317.33 220.67h4.00v4.00h-4.00zM312 223.33h4.00v5.33h-4.00zM309.33 226h1.33v2.67h-1.33zM328 226h2.67v4.00h-2.67zM312 231.33h5.33v5.33h-5.33zM308 232.67h4.00v4.00h-4.00zM318.67 232.67h5.33v4.00h-5.33zM328 232.67h2.67v1.33h-2.67zM320 238h2.67v4.00h-2.67zM317.33 239.33h1.33v5.33h-1.33zM324 239.33h4.00v5.33h-4.00zM314.67 240.67h2.67v1.33h-2.67zM332 243.33h4.00v1.33h-4.00zM332 244.67h4.00v4.00h-4.00zM328 246h2.67v4.00h-2.67zM317.33 247.33h2.67v2.67h-2.67zM326.67 250h2.67v2.67h-2.67zM326.67 254h1.33v5.33h-1.33zM342.67 255.33h1.33v2.67h-1.33zM318.67 258h2.67v1.33h-2.67zM317.33 259.33h5.33v1.33h-5.33zM329.33 264.67h2.67v1.33h-2.67zM310.67 266h4.00v1.33h-4.00zM313.33 267.33h5.33v1.33h-5.33zM428 267.33h2.67v2.67h-2.67zM333.33 268.67h4.00v2.67h-4.00zM357.33 268.67h5.33v5.33h-5.33zM320 270h5.33v1.33h-5.33zM329.33 270h5.33v4.00h-5.33zM362.67 270h1.33v4.00h-1.33zM425.33 271.33h4.00v1.33h-4.00zM309.33 272.67h2.67v2.67h-2.67zM313.33 272.67h1.33v2.67h-1.33zM393.33 272.67h5.33v2.67h-5.33zM408 272.67h2.67v2.67h-2.67zM413.33 272.67h2.67v4.00h-2.67zM326.67 274h2.67v2.67h-2.67zM334.67 274h2.67v1.33h-2.67zM338.67 274h2.67v2.67h-2.67zM361.33 275.33h2.67v2.67h-2.67zM373.33 275.33h2.67v2.67h-2.67zM410.67 275.33h2.67v1.33h-2.67zM328 276.67h5.33v1.33h-5.33zM334.67 276.67h5.33v2.67h-5.33zM309.33 278h5.33v4.00h-5.33zM329.33 278h4.00v1.33h-4.00zM389.33 279.33h5.33v5.33h-5.33zM468 279.33h2.67v1.33h-2.67zM330.67 280.67h1.33v4.00h-1.33zM368 280.67h4.00v4.00h-4.00zM378.67 282h4.00v2.67h-4.00zM338.67 283.33h1.33v1.33h-1.33zM372 283.33h2.67v2.67h-2.67zM394.67 283.33h5.33v1.33h-5.33zM389.33 284.67h4.00v5.33h-4.00zM396 284.67h1.33v1.33h-1.33zM416 284.67h1.33v1.33h-1.33zM438.67 284.67h1.33v1.33h-1.33zM349.33 287.33h2.67v1.33h-2.67zM400 287.33h4.00v2.67h-4.00zM442.67 287.33h2.67v5.33h-2.67zM382.67 288.67h1.33v4.00h-1.33zM441.33 288.67h2.67v4.00h-2.67zM418.67 291.33h2.67v4.00h-2.67zM422.67 291.33h2.67v2.67h-2.67zM396 294h1.33v2.67h-1.33zM450.67 294h1.33v4.00h-1.33zM453.33 294h2.67v2.67h-2.67zM384 295.33h2.67v4.00h-2.67zM390.67 295.33h4.00v4.00h-4.00zM358.67 296.67h1.33v1.33h-1.33zM425.33 298h2.67v5.33h-2.67zM356 299.33h2.67v4.00h-2.67zM416 299.33h5.33v2.67h-5.33zM421.33 299.33h2.67v4.00h-2.67zM429.33 300.67h2.67v5.33h-2.67zM364 302h2.67v4.00h-2.67zM428 302h5.33v2.67h-5.33zM377.33 304.67h1.33v2.67h-1.33zM381.33 304.67h1.33v2.67h-1.33zM450.67 304.67h4.00v2.67h-4.00zM450.67 307.33h4.00v2.67h-4.00zM360 308.67h4.00v1.33h-4.00zM441.33 308.67h4.00v4.00h-4.00zM449.33 308.67h5.33v4.00h-5.33zM454.67 308.67h1.33v4.00h-1.33zM456 308.67h1.33v2.67h-1.33zM356 310h2.67v2.67h-2.67zM402.67 310h2.67v1.33h-2.67zM341.33 311.33h2.67v1.33h-2.67zM364 311.33h5.33v5.33h-5.33zM401.33 311.33h2.67v1.33h-2.67zM436 311.33h1.33v2.67h-1.33zM460 311.33h1.33v2.67h-1.33zM441.33 312.67h4.00v4.00h-4.00zM446.67 312.67h5.33v4.00h-5.33zM361.33 314h1.33v2.67h-1.33zM456 314h4.00v2.67h-4.00zM340 315.33h1.33v1.33h-1.33zM414.67 315.33h5.33v5.33h-5.33zM453.33 315.33h5.33v1.33h-5.33zM341.33 316.67h2.67v1.33h-2.67zM366.67 316.67h4.00v4.00h-4.00zM441.33 316.67h2.67v1.33h-2.67zM341.33 318h2.67v2.67h-2.67zM348 319.33h2.67v2.67h-2.67zM362.67 319.33h5.33v4.00h-5.33zM384 319.33h2.67v4.00h-2.67zM354.67 320.67h5.33v2.67h-5.33zM353.33 323.33h2.67v1.33h-2.67zM356 323.33h5.33v2.67h-5.33zM421.33 324.67h4.00v4.00h-4.00zM432 324.67h4.00v1.33h-4.00zM417.33 326h4.00v2.67h-4.00zM428 326h2.67v1.33h-2.67zM350.67 327.33h4.00v2.67h-4.00zM366.67 327.33h2.67v1.33h-2.67zM422.67 328.67h4.00v2.67h-4.00zM369.33 330h4.00v2.67h-4.00zM418.67 330h1.33v2.67h-1.33zM350.67 331.33h4.00v4.00h-4.00zM356 331.33h5.33v2.67h-5.33zM424 331.33h2.67v5.33h-2.67zM342.67 332.67h5.33v1.33h-5.33zM370.67 332.67h1.33v5.33h-1.33zM364 334h4.00v5.33h-4.00zM416 334h1.33v4.00h-1.33zM426.67 335.33h4.00v2.67h-4.00zM337.33 336.67h4.00v4.00h-4.00zM350.67 336.67h2.67v4.00h-2.67zM401.33 336.67h1.33v4.00h-1.33zM410.67 336.67h2.67v2.67h-2.67zM413.33 336.67h5.33v2.67h-5.33zM334.67 338h4.00v4.00h-4.00zM345.33 338h1.33v2.67h-1.33zM374.67 338h5.33v2.67h-5.33zM328 339.33h5.33v5.33h-5.33zM342.67 339.33h4.00v2.67h-4.00zM397.33 339.33h4.00v2.67h-4.00zM412 339.33h4.00v2.67h-4.00zM372 340.67h2.67v4.00h-2.67zM344 342h5.33v2.67h-5.33zM386.67 342h4.00v2.67h-4.00zM420 342h4.00v2.67h-4.00zM336 343.33h4.00v2.67h-4.00zM408 343.33h5.33v4.00h-5.33zM414.67 343.33h5.33v5.33h-5.33zM340 344.67h2.67v2.67h-2.67zM422.67 346h2.67v2.67h-2.67zM224 347.33h4.00v1.33h-4.00zM377.33 347.33h2.67v4.00h-2.67zM402.67 347.33h1.33v4.00h-1.33zM201.33 348.67h1.33v1.33h-1.33zM337.33 348.67h2.67v1.33h-2.67zM356 348.67h2.67v2.67h-2.67zM381.33 348.67h5.33v4.00h-5.33zM412 348.67h4.00v2.67h-4.00zM321.33 351.33h2.67v4.00h-2.67zM329.33 351.33h1.33v4.00h-1.33zM402.67 351.33h1.33v1.33h-1.33zM430.67 351.33h5.33v2.67h-5.33zM356 352.67h2.67v4.00h-2.67zM410.67 352.67h1.33v5.33h-1.33zM393.33 354h4.00v2.67h-4.00zM197.33 355.33h4.00v4.00h-4.00zM201.33 355.33h2.67v5.33h-2.67zM204 355.33h2.67v5.33h-2.67zM276 355.33h4.00v2.67h-4.00zM325.33 355.33h2.67v2.67h-2.67zM397.33 355.33h2.67v2.67h-2.67zM418.67 355.33h1.33v2.67h-1.33zM401.33 356.67h2.67v5.33h-2.67zM420 356.67h1.33v2.67h-1.33zM276 358h5.33v4.00h-5.33zM209.33 359.33h1.33v2.67h-1.33zM232 359.33h4.00v5.33h-4.00zM204 360.67h1.33v1.33h-1.33zM262.67 360.67h4.00v2.67h-4.00zM273.33 360.67h2.67v2.67h-2.67zM406.67 360.67h4.00v2.67h-4.00zM326.67 362h4.00v2.67h-4.00zM378.67 362h2.67v4.00h-2.67zM381.33 362h2.67v5.33h-2.67zM304 363.33h4.00v5.33h-4.00zM313.33 363.33h5.33v2.67h-5.33zM374.67 363.33h1.33v4.00h-1.33zM428 363.33h1.33v4.00h-1.33zM204 366h4.00v4.00h-4.00zM270.67 366h1.33v1.33h-1.33zM328 366h5.33v4.00h-5.33zM377.33 367.33h2.67v4.00h-2.67zM340 368.67h4.00v2.67h-4.00zM288 370h4.00v5.33h-4.00zM332 370h5.33v1.33h-5.33zM382.67 370h1.33v2.67h-1.33zM374.67 371.33h2.67v1.33h-2.67zM388 372.67h1.33v1.33h-1.33zM282.67 374h2.67v1.33h-2.67zM414.67 374h1.33v1.33h-1.33zM386.67 375.33h1.33v2.67h-1.33zM377.33 376.67h5.33v5.33h-5.33zM414.67 376.67h5.33v5.33h-5.33zM229.33 378h2.67v1.33h-2.67zM316 378h2.67v2.67h-2.67zM352 378h2.67v4.00h-2.67zM358.67 378h5.33v5.33h-5.33zM372 378h1.33v2.67h-1.33zM413.33 378h1.33v1.33h-1.33zM313.33 379.33h4.00v1.33h-4.00zM366.67 379.33h5.33v2.67h-5.33zM402.67 379.33h2.67v2.67h-2.67zM356 380.67h4.00v2.67h-4.00zM317.33 382h1.33v4.00h-1.33zM372 382h4.00v2.67h-4.00zM345.33 383.33h2.67v1.33h-2.67zM348 383.33h1.33v4.00h-1.33zM354.67 383.33h2.67v4.00h-2.67zM396 383.33h5.33v4.00h-5.33zM404 383.33h1.33v2.67h-1.33zM345.33 384.67h5.33v5.33h-5.33zM373.33 384.67h4.00v2.67h-4.00zM350.67 386h4.00v5.33h-4.00zM369.33 386h1.33v2.67h-1.33zM225.33 387.33h5.33v2.67h-5.33zM286.67 387.33h5.33v5.33h-5.33zM354.67 388.67h1.33v5.33h-1.33zM238.67 391.33h1.33v2.67h-1.33zM400 391.33h1.33v2.67h-1.33zM294.67 392.67h4.00v4.00h-4.00zM304 392.67h4.00v1.33h-4.00zM285.33 394h1.33v1.33h-1.33zM325.33 394h1.33v5.33h-1.33zM238.67 395.33h5.33v1.33h-5.33zM293.33 395.33h1.33v5.33h-1.33zM232 396.67h2.67v4.00h-2.67zM241.33 396.67h2.67v2.67h-2.67zM288 396.67h4.00v4.00h-4.00zM292 398h4.00v5.33h-4.00zM304 398h4.00v1.33h-4.00zM332 398h4.00v4.00h-4.00zM236 399.33h1.33v2.67h-1.33zM237.33 399.33h4.00v4.00h-4.00zM260 399.33h2.67v4.00h-2.67zM302.67 399.33h1.33v4.00h-1.33zM301.33 400.67h2.67v1.33h-2.67zM236 402h4.00v2.67h-4.00zM274.67 402h2.67v1.33h-2.67zM277.33 402h4.00v5.33h-4.00zM302.67 403.33h4.00v4.00h-4.00zM328 403.33h2.67v4.00h-2.67zM326.67 404.67h4.00v4.00h-4.00zM276 406h4.00v1.33h-4.00zM218.67 407.33h4.00v2.67h-4.00zM365.33 407.33h4.00v1.33h-4.00zM330.67 408.67h2.67v2.67h-2.67zM341.33 408.67h1.33v2.67h-1.33zM300 410h4.00v1.33h-4.00zM320 410h1.33v4.00h-1.33zM252 411.33h1.33v5.33h-1.33zM314.67 411.33h4.00v4.00h-4.00zM321.33 411.33h4.00v5.33h-4.00zM246.67 412.67h2.67v4.00h-2.67zM325.33 412.67h4.00v1.33h-4.00zM340 412.67h2.67v2.67h-2.67zM268 414h4.00v4.00h-4.00zM261.33 415.33h2.67v5.33h-2.67zM326.67 415.33h2.67v2.67h-2.67zM358.67 418h5.33v2.67h-5.33zM249.33 419.33h2.67v2.67h-2.67zM277.33 419.33h4.00v2.67h-4.00zM326.67 419.33h1.33v1.33h-1.33zM352 419.33h2.67v4.00h-2.67zM262.67 420.67h4.00v5.33h-4.00zM316 420.67h4.00v5.33h-4.00zM314.67 422h4.00v2.67h-4.00zM330.67 422h4.00v4.00h-4.00zM277.33 423.33h2.67v4.00h-2.67zM280 423.33h2.67v1.33h-2.67zM309.33 423.33h4.00v4.00h-4.00zM265.33 426h1.33v1.33h-1.33zM272 426h5.33v2.67h-5.33zM334.67 426h4.00v4.00h-4.00zM341.33 426h2.67v2.67h-2.67zM360 426h2.67v1.33h-2.67zM270.67 427.33h1.33v2.67h-1.33zM280 427.33h2.67v2.67h-2.67zM289.33 427.33h4.00v4.00h-4.00zM312 427.33h1.33v1.33h-1.33zM325.33 427.33h1.33v1.33h-1.33zM338.67 427.33h4.00v4.00h-4.00zM314.67 428.67h5.33v2.67h-5.33zM328 428.67h4.00v1.33h-4.00zM325.33 430h5.33v1.33h-5.33zM297.33 431.33h2.67v5.33h-2.67zM310.67 431.33h4.00v2.67h-4.00zM289.33 434h1.33v2.67h-1.33zM294.67 434h2.67v1.33h-2.67zM317.33 434h1.33v2.67h-1.33zM316 436.67h1.33v5.33h-1.33zM302.67 442h1.33v4.00h-1.33zM312 442h2.67v5.33h-2.67zM308 443.33h5.33v2.67h-5.33zM301.33 446h2.67v2.67h-2.67zM304 446h5.33v2.67h-5.33zM317.33 447.33h4.00v2.67h-4.00zM313.33 450h2.67v4.00h-2.67zM462.67 450h2.67v5.33h-2.67zM468 454h2.67v4.00h-2.67zM314.67 455.33h1.33v2.67h-1.33zM312 458h2.67v4.00h-2.67zM318.67 459.33h4.00v2.67h-4.00zM445.33 459.33h2.67v1.33h-2.67zM321.33 462h1.33v1.33h-1.33zM450.67 470h5.33v4.00h-5.33zM460 470h2.67v2.67h-2.67zM462.67 471.33h2.67v2.67h-2.67zM446.67 475.33h2.67v5.33h-2.67zM450.67 475.33h5.33v4.00h-5.33zM464 479.33h2.67v2.67h-2.67z"/><path fill="#00a83a" d="M465.33 264.67h2.67v2.67h-2.67zM418.67 270h4.00v1.33h-4.00zM364 287.33h1.33v2.67h-1.33zM374.67 299.33h1.33v1.33h-1.33zM436 299.33h2.67v4.00h-2.67zM410.67 304.67h1.33v2.67h-1.33zM404 318h2.67v5.33h-2.67zM293.33 347.33h2.67v1.33h-2.67zM296 352.67h1.33v4.00h-1.33zM285.33 355.33h4.00v2.67h-4.00zM296 356.67h2.67v1.33h-2.67zM229.33 366h2.67v5.33h-2.67zM226.67 368.67h5.33v2.67h-5.33zM228 371.33h4.00v5.33h-4.00zM309.33 375.33h2.67v2.67h-2.67zM274.67 376.67h4.00v1.33h-4.00zM388 378h1.33v2.67h-1.33zM312 388.67h2.67v2.67h-2.67zM261.33 394h5.33v2.67h-5.33zM268 394h4.00v5.33h-4.00zM278.67 396.67h4.00v2.67h-4.00zM354.67 398h2.67v2.67h-2.67zM362.67 403.33h1.33v2.67h-1.33zM380 403.33h5.33v2.67h-5.33zM386.67 403.33h4.00v2.67h-4.00zM288 406h1.33v1.33h-1.33zM314.67 407.33h1.33v1.33h-1.33zM372 411.33h4.00v5.33h-4.00zM293.33 412.67h2.67v2.67h-2.67zM285.33 435.33h1.33v2.67h-1.33zM341.33 439.33h4.00v2.67h-4.00zM325.33 446h4.00v5.33h-4.00zM332 448.67h1.33v4.00h-1.33zM289.33 472.67h1.33v2.67h-1.33zM469.33 490h4.00v1.33h-4.00z"/><g fill="#00a83a"><polygon points="218.5,464.3 228.5,463.5 228.5,456.8 233.5,455.2 234.3,450.2 239.3,447.7 245.2,449.3 246.8,456.0 253.5,457.7 256.0,462.7 258.5,468.5 263.5,470.2 268.5,471.8 270.2,477.7 273.5,481.0 273.5,486.0 270.2,486.0 270.2,492.7 267.7,494.3 266.8,501.0 268.5,509.3 274.3,511.8 274.3,516.0 269.3,518.5 266.0,522.7 264.3,529.3 259.3,532.7 255.2,532.7 251.0,528.5 247.7,526.0 247.7,517.7 248.5,509.3 246.0,502.7 243.5,496.0 241.8,489.3 236.0,489.3 230.2,493.5 225.2,495.2 226.0,487.7 228.5,484.3 222.7,477.7 219.3,472.7"/><polygon points="150.6,460 155.4,456.3 158.3,459.1 161.1,464.9 160.2,469.7 155.4,468.7 151.6,463"/></g><g fill="#fff"><polygon points="252.7,489.3 257.7,486.0 262.7,485.2 267.7,486.0 270.2,487.7 268.5,491.8 264.3,493.5 259.3,492.7 255.2,493.5"/></g><g fill="#0050f0"><polygon points="160.1,102.6 163.5,100.9 165.1,97.6 167.4,94.2 168.5,91.4 170.8,87.5 174.1,85.2 175.2,80.8 177.5,80.8 180.9,78.5 183.7,77.9 185.9,79.6 188.1,78.5 190.4,74.6 190.9,72.1 197.7,72.1 196,74.6 198.8,76.3 198.2,77.9 194.9,75.7 193.2,76.8 190.4,79.6 188.7,81.9 185.9,83.6 183.7,83 182.5,81.3 179.7,84.1 176.9,86.4 173.6,88.6 171.3,90.9 170.2,94.2 167.9,97.6 166.3,99.3 164,102.6 160.7,103.8"/><polygon points="260,245 263,244 268,245 270,248 268,252 266,255 263,254 260,251"/><polygon points="217,253 219,252 222,256 224,260 222,261 219,257"/><polygon points="261,288 264,286 265,289 262,292"/><polygon points="291,305 293,304 293,308 291,309"/><polygon points="288,309 290,309 290,313 288,313"/><polygon points="281,318 286,316 288,319 284,322"/><polygon points="281,326 283,325 283,328 281,328"/><polygon points="267,345 272,334 277,335 274,340 270,347 267,348"/><polygon points="186,197 188,197 188,204 186,204"/><polygon points="241,203 244,203 244,211 241,211"/><polygon points="242.4,365.4 247.6,365.4 248.4,377.5 249.3,386.2 255.4,394 254.5,401 249.3,394.8 244.1,388 241.5,377.5"/><polygon points="176.4,451.9 177.1,445.9 180.1,440 185.3,437.8 190.4,434.8 193.4,433.3 197.9,432.6 202.3,430.4 205.3,433.3 209,435.6 211.2,434.8 213.4,437 216.4,441.5 221.6,440 225.3,441.5 224.5,444.4 220.1,445.9 217.1,448.1 214.9,451.1 213.4,455.6 212.7,459.3 210.4,463.7 208.2,468.1 209.7,471.9 209,474.8 206,475.6 203.8,472.6 200.8,477 197.1,480.7 197.9,484.4 194.9,485.2 193.4,487.4 191.9,484.4 192.7,482.2 188.2,478.5 184.5,477 181.6,480 177.9,483 177.1,478.5 174.9,474.1 175.6,466.7 176.4,459.3"/><polygon points="185.3,412.6 188.2,411.1 191.9,410.4 195.6,408.1 197.9,410.4 202.3,411.1 204.5,410.4 203.8,413.3 200.8,414.8 202.3,418.5 199.3,419.3 197.1,416.3 194.1,417.8 191.2,416.3 188.2,414.8"/><polygon points="209,411.1 215.6,411.1 215.6,414.1 209,414.1"/><polygon points="169,448 172,448 172,450.4 169,450.4"/><polygon points="167.5,471 170.4,471 170.4,474 167.5,474"/><polygon points="155.4,420 166,407.5 170.7,399.8 173.6,399 171.7,407.5 167.8,413.2 160.2,421 156.4,422.8"/><polygon points="148.7,437 154.4,437 154.4,441 148.7,441"/><polygon points="138.2,445.7 141,441 145.8,439 147.7,442.9 143.9,445.7 142,449.6 138.8,450.5"/><polygon points="130.5,478.3 131.5,470.6 134.4,463 138.2,462 137.2,468.7 135.3,474.5 132.4,480.2"/><polygon points="163,448.6 168,448.6 168,451.5 163,451.5"/><polygon points="150.6,466.8 156.4,466.8 156.4,469.7 150.6,469.7"/><polygon points="152.5,471.6 157.3,471.6 157.3,474.5 152.5,474.5"/><polygon points="167,470.6 170.7,470.6 170.7,474.5 167,474.5"/><polygon points="145,460 147.7,460 147.7,463 145,463"/><polygon points="135.3,491.7 139,495.5 141,505 146,518 148,530 150,538 154,544 158,552 162,562 165,570 168,576 166,578 160,576 156,572 152,564 147,556 142,548 138,540 136,528 134,515 133,500"/><polygon points="122,583 126,577 131,572 135,574 133,580 128,587 124,590"/><polygon points="141,579 144,573 150,572 146,580"/><polygon points="84,580 86,577 90,573 93,568 97,563 104,560 102,565 98,570 94,575 88,580 86,584"/><polygon points="78,604 82,604 84,611 80,610"/><polygon points="100,609 106,609 104,613 101,613"/><polygon points="177,559 180,558 184,560 188,564 192,568 194,572 190,570 186,566 182,563 178,561"/><polygon points="211,589 214,588 218,594 221,602 223,610 226,616 228,622 224,628 214,628 216,622 215,614 213,606 211,598"/><polygon points="246.8,466.8 249.0,466.0 247.7,471.8 245.2,480.2 242.7,480.2 244.3,471.8"/><polygon points="240.2,492.7 242.7,491.8 242.7,497.7 240.2,498.5"/><polygon points="223.5,496.8 228.5,494.3 233.5,491.8 232.7,494.3 227.7,497.7 224.3,499.3"/><polygon points="263.5,495.2 266.8,495.2 266.8,498.5 263.5,498.5"/><polygon points="261.0,478.5 263.5,478.5 263.5,481.0 261.0,481.0"/><polygon points="215.2,502.7 218.5,502.7 218.5,504.3 215.2,504.3"/><polygon points="224.3,512.7 226.0,512.7 226.0,514.3 224.3,514.3"/><polygon points="226.8,509.3 228.5,509.3 228.5,511.0 226.8,511.0"/><polygon points="231.8,506.8 234.3,506.8 234.3,508.5 231.8,508.5"/><polygon points="229.3,511.8 231.8,511.8 231.8,513.5 229.3,513.5"/><polygon points="225.2,516.8 226.8,516.8 226.8,518.5 225.2,518.5"/><polygon points="241.8,513.5 243.5,513.5 243.5,514.7 241.8,514.7"/><polygon points="241.8,531.8 244.0,531.8 244.0,533.5 241.8,533.5"/><polygon points="244.3,443.5 246.0,443.5 246.0,445.2 244.3,445.2"/><polygon points="247.7,450.2 250.7,450.2 250.7,451.8 247.7,451.8"/><polygon points="264.3,451.3 269.7,451.3 269.7,453.5 264.3,453.5"/><polygon points="206.8,471.8 209.3,471.8 209.3,474.7 206.8,474.7"/><polygon points="332,255 334,256 335,262 337,264 335,266 333,262"/><rect x="291.5" y="553" width="2" height="2"/><rect x="296.5" y="578" width="2" height="2"/><rect x="299.8" y="589" width="2" height="2"/><rect x="300.3" y="612" width="2" height="2"/><rect x="307.3" y="624" width="2" height="2"/><rect x="20" y="278" width="2" height="2"/><rect x="147" y="274" width="2" height="2"/><rect x="154" y="287" width="2" height="2"/><rect x="137" y="301" width="2" height="2"/><rect x="150.5" y="341" width="2" height="2"/><rect x="151" y="340" width="2" height="2"/><rect x="80" y="489" width="2" height="2"/><rect x="63" y="539" width="2" height="2"/><rect x="70" y="556" width="2" height="2"/><rect x="51" y="591" width="2" height="2"/><rect x="23" y="620" width="2" height="2"/><rect x="142" y="607" width="2" height="2"/><rect x="142" y="612" width="2" height="2"/><rect x="144" y="621" width="2" height="2"/><rect x="155" y="287" width="2" height="2"/><rect x="157" y="320" width="2" height="2"/><rect x="156" y="336" width="2" height="2"/><rect x="171" y="336" width="2" height="2"/><rect x="214" y="317" width="2" height="2"/><rect x="255" y="326" width="2" height="2"/><rect x="257" y="362" width="2" height="2"/><rect x="244" y="428" width="2" height="2"/><rect x="241" y="531" width="2" height="2"/><rect x="254" y="542" width="2" height="2"/><rect x="167" y="547" width="2" height="2"/><rect x="204" y="580" width="2" height="2"/><rect x="143" y="609" width="2" height="2"/><rect x="158" y="617" width="2" height="2"/><rect x="312" y="216" width="2" height="2"/><rect x="320" y="227" width="2" height="2"/></g><g fill="none" stroke="#000" stroke-width="1"><polyline points="69.5,71.5 69.5,122.0 54.5,122.0 54.5,190.0 48.0,190.0 45.7,190.2 43.4,190.8 41.0,190.5 39.0,191.3 37.5,193.0 38.5,194.9 38.0,197.0 37.7,199.1 35.3,199.9 35.0,202.0 34.1,204.5 32.0,206.0 30.8,208.0 29.5,210.0 29.5,212.3 31.0,214.0 30.1,216.1 28.0,217.0 26.1,217.3 25.0,219.0 26.0,221.4 26.0,224.0 25.4,226.4 24.2,228.4 21.8,229.7 21.0,232.0 20.0,234.4 20.0,237.0 22.1,237.9 23.0,240.0 25.4,239.0 28.0,239.0 29.4,240.7 28.6,243.3 30.0,245.0 29.8,247.4 31.5,249.6 31.0,252.0 31.9,254.5 34.0,256.0 35.7,257.6 36.0,260.0 38.0,262.0 36.9,264.1 35.0,265.5"/><polyline points="69.5,91.5 213.4,91.5 212.3,93.7 208.3,95.3 205,95.3 201.6,93.1 199.9,91.5"/><polyline points="213.4,91.5 214.5,88.6 216.7,87.3 220.0,87.3 223.0,86.0 224.6,84.3 223.9,81.7 226.2,80.3 226.3,78.0 228.6,78.3 230.5,77.0 232.5,76.2 234.0,74.5 235.3,72.7 237.5,72.3 238.0,72.0"/><polyline points="7.0,106.0 54.5,130.5"/><polyline points="35.0,265.5 28.0,265.5 26.1,266.4 24.1,267.0 21.9,265.8 20.0,267.0 19.7,269.6 18.5,272.0 17.8,274.5 17.0,277.0 14.8,277.6 13.0,279.0 11.3,280.9 9.0,282.0 7.3,283.4 7.0,285.5"/><polyline points="35.0,265.5 37.2,266.4 37.8,269.1 40.0,270.0 41.2,271.5 41.9,273.5 44.1,274.2 45.0,276.0 46.6,277.4 46.0,279.9 46.9,281.6 48.5,283.0 49.2,285.3 48.8,287.7 49.0,290.0 48.1,292.5 46.0,294.0 46.0,298.0 47.0,300.0 49.3,301.3 52.0,301.0 53.9,300.4 55.6,302.1 57.5,301.5"/><polyline points="57.5,301.5 58.7,299.2 61.0,298.0 62.4,296.3 61.9,293.8 63.0,292.0 64.1,289.8 65.1,287.6 65.0,285.0 66.4,283.6 67.0,281.7 68.0,280.0 69.9,278.0 71.0,275.5 73.4,276.0 75.7,275.3 78.0,274.5 80.5,274.0 83.0,273.5 83.8,275.2 84.5,277.0 86.6,278.7 88.0,281.0 89.4,282.4 90.4,284.1 91.0,286.0 93.4,286.3 95.0,288.0 97.1,288.6 99.0,287.7 101.0,287.5 104.0,286.5 112.0,286.5 114.5,287.0 114.5,278.5 133.5,278.5 133.5,285.5 136.1,286.0 138.6,285.3 141.0,284.5 141.3,282.7 142.2,280.9 142.0,279.0 144.0,278.0 146.0,277.0 150.0,277.0 151.6,278.7 154.4,278.3 156.0,280.0 157.9,280.8 158.1,283.2 160.0,284.0 163.0,284.5 165.4,284.8 167.6,283.7 170.0,284.0 171.2,282.5 172.1,280.7 174.1,279.8 175.0,278.0 176.6,276.8 176.9,274.5 178.1,273.0 180.0,272.0 182.1,271.1 183.6,269.6 184.5,267.5 186.0,266.0 186.3,264.0 186.7,262.0 187.0,260.0 187.5,257.9 187.0,255.9 187.0,253.9 186.0,252.0 183.0,251.0 185.0,251.4 187.0,250.0 189.0,249.9 191.0,250.6 193.0,250.5 193.0,246.0 200.0,246.0 199.7,248.0 201.1,249.9 200.5,252.0 201.1,254.1 200.2,256.0 200.0,258.0 199.5,260.1 200.2,262.1 201.0,264.0 200.5,266.0 200.0,268.0 201.8,269.4 204.0,270.0 205.3,271.3 207.2,272.1 208.0,274.0 208.9,276.0 210.7,277.3 212.0,279.0 213.0,281.4 213.0,284.0 212.7,286.2 214.0,288.0"/><polyline points="57.5,301.5 58.0,303.4 57.0,305.0 58.1,306.9 60.0,308.0 62.1,307.5 64.1,308.2 66.0,309.0 67.3,310.3 69.0,311.3 70.0,313.0 72.2,313.6 74.0,315.0 73.0,316.9 73.0,319.0 74.0,320.7 75.3,322.0 77.0,323.0 79.1,323.3 80.6,324.6 82.0,326.0 83.3,328.0 85.0,329.7 87.0,331.0 87.9,333.5 90.0,335.0 90.5,337.0 91.0,339.0 92.9,340.7 94.0,343.0 96.3,344.5 99.0,345.0 100.5,347.1 103.0,348.0 104.5,350.0 106.0,352.0 106.0,357.5"/><polyline points="7.0,369.5 9.4,370.7 12.0,371.0 14.0,371.2 16.0,371.8 18.0,371.5 20.1,371.5 22.1,372.0 24.0,373.0 30.0,373.0 30.3,370.2 32.0,368.0 32.6,366.1 33.6,364.4 35.0,363.0 38.0,362.5 39.9,363.1 41.6,364.1 43.0,365.5 45.1,363.9 47.8,364.3 50.0,363.0 52.3,362.9 53.8,360.8 56.0,360.4 58.0,359.5 60.0,358.0 62.0,359.2 64.0,360.5 65.9,359.5 68.0,359.7 70.0,360.0 72.7,359.5 75.0,358.0 76.3,356.2 76.0,354.0 78.0,354.2 80.0,354.5 81.7,356.1 83.7,356.9 86.0,357.0 88.0,357.5 90.1,357.5 92.0,358.5 94.6,359.0 97.0,358.0 99.3,358.1 100.7,355.9 103.0,356.0 104.3,357.2 106.0,357.5 107.5,359.9 110.0,361.0 110.9,363.0 112.3,364.6 114.0,366.0 115.7,367.9 118.0,369.0 120.4,370.2 123.0,370.5 124.1,368.4 126.7,367.9 128.0,366.0 129.8,367.4 132.0,368.0 134.8,368.3 137.0,370.0 138.2,367.8 139.5,365.8 141.7,364.4 144.1,365.6 145.8,367.5 146.8,369.5 149.0,370.7 150.0,372.7 152.3,373.9 153.5,376.2 155.2,377.9 156.8,380.1 159.4,381.0 162.5,382.1 164.1,379.9 166.7,379.0 168.9,378.5 171.0,378.9 172.9,380.0 175.7,380.3 178.1,379.0 179.6,380.3 180.2,382.1 184.4,382.1 186.4,381.7 187.5,380.0 189.8,378.9 192.4,379.3 194.8,379.0 197.1,379.2 199.0,377.9 201.0,377.9 202.8,378.6 204.2,380.0 205.9,378.1 208.3,376.9 210.6,376.1 212.0,374.0"/><polyline points="238.0,72.0 238.6,74.2 240.0,76.0 241.7,77.0 242.7,78.7 244.0,80.0 245.5,79.0 247.0,78.0 246.7,80.2 248.0,82.0 250.0,83.5 252.0,85.0 253.7,86.9 256.0,88.0 257.3,89.8 257.0,92.0 258.1,93.9 257.2,96.1 258.0,98.0 258.6,100.2 260.0,102.0 261.0,103.7 262.3,105.0 264.0,106.0 262.0,108.0 262.0,115.0 262.3,117.3 263.5,119.6 263.0,122.0 263.7,123.9 264.3,125.9 263.8,128.0 264.0,130.0 264.2,132.0 264.0,134.1 265.2,135.9 265.0,138.0 265.3,140.4 267.0,142.0 269.8,142.3 272.0,144.0 274.3,145.1 276.0,147.0 277.5,149.1 280.0,150.0 281.5,151.5 283.0,153.0 284.4,154.4 284.3,156.7 286.0,158.0 287.7,160.2 288.0,163.0 287.9,165.6 289.3,167.7 290.0,170.0 291.4,171.7 291.3,174.0 292.0,176.0 291.5,178.1 292.7,180.0 293.0,182.0 294.1,183.8 294.3,186.0 295.0,188.0 296.4,189.8 297.0,192.0 297.9,194.1 300.0,195.0 300.9,197.1 303.0,198.0 304.3,199.7 306.3,200.0 308.0,201.0 310.2,201.6 312.0,203.0 313.6,204.7 316.2,204.6 318.0,206.0 320.5,206.2 322.5,207.8 325.0,208.0 326.9,209.7 328.0,212.0 329.7,213.4 330.0,215.8 332.0,217.0 333.8,218.4 336.0,219.0 338.0,220.0 339.9,220.8 341.2,222.1 342.0,224.0 343.5,226.0 345.0,228.0 346.1,230.3 348.0,232.0 350.0,233.0 352.0,234.0 353.7,235.0 354.1,237.2 356.0,238.0 357.5,240.0 359.0,242.0 359.0,244.6 360.0,247.0 359.0,249.0 358.0,251.0 356.0,252.0 354.0,253.0 352.4,254.7 350.0,255.0 348.8,256.4 347.0,257.0 350.0,257.5 352.3,256.0 355.0,256.0 356.8,256.6 358.0,258.0 359.2,259.4 361.0,260.0 362.9,261.7 364.0,264.0 365.3,265.3 367.0,266.3 368.0,268.0 369.0,269.7 370.1,271.2 372.0,272.0 373.6,273.7 376.0,274.0 382.0,274.0 383.6,272.3 386.0,272.0 388.2,271.4 390.0,270.0 392.0,269.0 393.7,267.6 395.7,266.9 398.0,267.0 399.9,268.0 402.0,268.0 404.3,269.1 406.0,271.0 408.1,271.0 410.0,270.0 411.8,268.6 414.0,268.0 416.3,266.9 418.0,265.0 420.0,264.3 421.7,262.9 424.0,263.0 426.1,263.2 428.1,262.8 430.0,262.0 432.1,262.2 433.9,260.5 436.0,261.0 437.9,260.0 440.0,260.0 441.9,259.0 444.0,259.0 445.9,258.2 447.9,257.5 450.0,258.0 451.9,257.2 454.1,258.1 456.0,257.0 458.1,257.2 459.9,255.8 462.0,256.0 464.3,256.1 466.3,255.4 468.0,254.0 470.2,253.4 472.0,252.0 473.5,251.0 475.0,250.0 478.0,250.5 480.1,250.3 482.0,251.0 485.0,252.0 485.0,256.0 483.3,257.6 483.0,260.0 483.0,266.0 481.9,267.9 482.8,270.1 482.0,272.0 485.0,273.0 486.0,275.0 484.2,276.3 482.0,276.0 481.7,278.4 480.0,280.0 480.5,282.1 478.5,283.9 479.0,286.0 478.8,288.2 477.2,289.8 477.0,292.0 476.4,294.2 475.0,296.0 474.4,297.9 473.7,299.7 472.0,301.0 470.7,302.7 469.7,304.6 468.0,306.0 466.5,308.0 465.0,310.0 463.3,311.3 463.4,313.6 462.0,315.0 462.0,320.0 460.0,321.6 459.3,324.0 458.0,326.0 457.0,328.0 455.3,329.6 455.0,332.0 453.6,333.8 453.4,336.2 452.0,338.0 451.7,340.8 450.0,343.0 449.0,344.8 447.6,346.3 446.3,347.9 446.0,350.0 444.2,351.1 443.2,352.9 441.8,354.3 441.6,356.7 440.0,358.0 432.0,370.0 430.0,371.2 429.7,373.6 427.4,374.5 426.0,376.2 426.0,378.8 424.0,380.0 422.0,381.2 421.2,383.6 418.6,384.2 418.2,387.0 416.0,388.0 414.8,390.0 413.2,391.6 411.6,393.2 409.2,394.0 408.0,396.0 405.9,396.6 405.3,399.0 402.7,399.0 402.1,401.4 400.0,402.0 398.0,403.2 395.6,403.8 393.6,405.1 392.0,407.0 389.6,407.6 387.7,409.1 386.4,411.4 384.0,412.0 381.9,412.6 381.3,415.0 379.5,416.0 377.9,417.2 376.0,418.0 374.5,419.5 373.6,421.6 372.1,423.1 370.0,424.0 367.9,424.9 366.6,426.6 364.9,427.9 364.0,430.0 363.1,432.1 361.6,433.6 359.1,434.1 358.0,436.0 356.5,437.5 354.4,438.4 352.9,439.9 352.0,442.0 349.6,442.7 347.6,444.0 346.0,446.0 344.9,447.9 343.0,449.0 341.1,450.1 340.0,452.0 338.0,453.6 336.7,455.6 336.0,458.0 334.3,459.0 332.8,460.1 332.0,462.0 331.0,463.7 328.8,464.1 328.0,466.0 326.7,467.3 324.8,468.1 324.0,470.0 323.0,471.7 321.0,472.3 320.0,474.0 319.0,475.7 317.0,476.3 316.0,478.0 314.5,480.1 312.0,481.0 310.6,482.2 310.0,484.0 310.0,490.0 308.6,491.8 308.0,494.0 306.5,496.0 305.0,498.0 304.7,500.4 303.0,502.0 301.9,504.3 300.0,506.0 298.6,507.8 298.0,510.0 296.9,511.7 295.0,512.0 294.8,514.2 293.7,516.0 293.0,518.0 293.1,520.3 292.1,522.2 291.0,524.0 290.3,526.0 290.1,528.2 289.0,530.0 288.7,532.0 288.8,534.1 288.0,536.0 287.8,538.1 289.2,539.9 289.0,542.0 291.1,543.5 292.0,546.0 293.0,547.7 294.3,549.0 296.0,550.0 297.5,552.3 298.0,555.0 297.4,557.2 296.0,559.0 295.0,562.0 297.2,562.6 299.0,564.0 301.2,563.4 303.0,562.0 304.7,560.9 305.0,559.0 304.0,560.9 304.0,563.0 302.0,564.5 300.0,566.0 297.8,566.6 296.0,568.0 296.2,570.1 295.3,572.0 295.0,574.0 296.5,576.0 298.0,578.0 299.1,579.9 298.7,582.0 299.0,584.0 300.4,585.7 300.3,588.0 301.0,590.0 300.5,592.1 301.2,594.1 302.0,596.0 303.0,597.7 305.2,598.1 306.0,600.0 307.9,601.0 310.0,601.0 311.5,602.0 313.0,603.0 313.3,605.4 315.0,607.0 315.3,609.8 317.0,612.0 316.0,614.0 315.0,616.0 313.3,617.6 313.0,620.0 314.1,621.9 314.5,623.9 314.0,626.0 315.8,626.6 317.0,628.0"/><polyline points="283.0,157.0 282.1,159.1 280.0,160.0 278.0,161.0 275.7,162.3 273.0,162.0 271.5,163.0 270.0,164.0 269.0,165.5 268.0,167.0 266.9,168.5 265.0,168.5 262.5,169.2 260.0,169.0 259.5,171.5 259.0,174.0 259.2,176.1 257.8,177.9 258.0,180.0 257.3,182.0 256.2,183.8 256.0,186.0 255.8,188.2 253.9,189.7 254.0,192.0 252.6,193.7 251.9,195.7 252.0,198.0 251.2,199.9 251.3,202.0 251.0,204.0 252.0,205.9 251.5,208.0 252.5,209.9 252.0,212.0"/><polyline points="252.0,212.0 254.0,211.7 256.0,212.8 258.0,212.5 259.6,210.6 262.0,210.0 264.0,211.5 266.0,213.0 266.3,210.6 267.3,208.6 269.0,207.0 270.5,205.5 272.0,204.0 273.9,204.0 275.0,205.5 276.1,207.0 278.0,207.0 279.9,208.1 281.0,210.0 282.8,208.7 285.0,209.0 287.5,208.8 290.0,208.5 295.0,208.5 297.0,211.0 300.0,210.0 302.1,209.5 303.9,211.2 306.0,211.0 308.3,210.9 310.0,212.3 312.0,213.0 313.6,215.0 315.7,216.1 318.0,217.0 319.3,218.7 320.0,220.8 322.0,222.0 323.7,223.0 325.2,224.1 326.0,226.0 326.8,227.9 329.0,228.3 330.0,230.0 332.2,231.1 333.7,233.0 335.0,235.0 336.7,236.3 338.8,237.0 340.0,239.0 342.3,240.1 344.0,242.0 346.1,242.0 348.0,243.0 350.0,242.0 352.0,241.0 353.0,239.5 354.0,238.0"/><polyline points="344.0,242.0 342.3,244.2 342.0,247.0 341.4,248.9 340.0,250.3 339.0,252.0 337.1,253.7 336.0,256.0 334.7,257.8 335.0,260.0 336.4,261.8 337.0,264.0 339.5,264.8 342.0,265.5 344.0,265.0 345.8,263.7 348.0,264.0 350.5,263.5 353.0,263.0 353.8,261.1 355.1,259.8 357.0,259.0 358.0,258.0"/><polyline points="353.0,263.0 352.7,265.4 351.0,267.0 349.7,269.3 350.0,272.0 349.9,274.3 351.8,275.8 352.0,278.0 352.7,280.4 354.3,282.3 356.0,284.0 357.7,285.4 358.3,287.6 360.0,289.0 361.9,289.8 362.3,292.0 364.0,293.0 365.7,294.9 368.0,296.0"/><polyline points="368,296 381,300 415.6,311.8 432.6,312.5 384.5,361"/><polyline points="384.5,361.0 370.6,360.6 368.3,360.2 366.2,361.0 364.0,361.1 362.0,362.3 360.3,363.7 358.8,365.5 357.1,366.8 355.0,367.8 353.3,369.2 351.2,370.5 348.9,371.4 346.4,371.8 344.3,372.2 342.6,373.5 341.1,375.1 339.1,375.6 337.0,376.0"/><polyline points="252.0,212.0 252.5,214.1 252.1,216.1 251.0,218.0 250.3,220.3 249.2,222.5 249.0,225.0 248.8,227.5 248.4,229.9 247.0,232.0 247.5,234.1 245.8,235.9 246.0,238.0 243.9,237.4 242.0,238.3 240.0,238.5 237.9,239.7 237.0,242.0 236.4,244.2 235.0,246.0 234.0,248.0 233.3,250.2 230.9,251.0 230.0,253.0 229.5,255.7 228.0,258.0 228.0,264.0 227.4,266.2 226.0,268.0 224.0,267.5 222.0,267.0 220.3,268.0 219.9,270.2 218.0,271.0 217.0,273.5 216.0,276.0 216.0,283.0 215.0,285.5 214.0,288.0 214.0,296.0 214.3,298.3 213.9,300.8 215.0,303.0 213.0,303.7 211.2,304.8 209.0,305.0 201.0,305.0 200.7,307.4 199.0,309.0 198.0,311.0 197.0,313.0 198.9,314.1 200.0,316.0 202.0,316.7 204.2,316.9 206.0,318.0 207.9,318.8 208.7,320.7 210.0,322.0 210.6,323.9 212.7,324.9 213.0,327.0 214.4,328.7 216.3,329.7 218.0,331.0 219.6,332.7 222.2,332.6 224.0,334.0 225.9,335.7 227.0,338.0 226.7,340.2 228.8,341.8 229.3,343.8 229.0,346.0 230.0,348.0 231.7,349.6 232.0,352.0 234.1,352.0 235.9,353.5 238.0,353.5 239.0,355.4 241.0,356.0 241.0,362.0 242.4,363.7 241.9,366.2 243.0,368.0 258.0,368.5"/><polyline points="258,368.5 266.6,375 277,381.3 289,382.4 298.6,383.6"/><polyline points="298.6,383.6 299.7,381.3 302.0,380.0 303.3,378.7 304.7,377.3 306.0,376.0 307.8,374.6 309.6,373.3 312.0,373.0 314.3,373.1 316.3,372.4 318.0,371.0 320.3,372.1 322.0,374.0 323.6,375.7 326.0,376.0 328.0,376.7 330.0,376.3 332.0,376.5 334.5,376.7 337.0,376.0 336.1,378.0 334.3,379.3 333.0,381.0 331.1,382.0 330.9,384.3 329.9,386.0 328.0,387.0 325.8,388.1 324.3,390.0 323.0,392.0 322.1,394.0 323.2,396.0 321.8,398.0 322.5,400.0 322.5,452.0 323.0,454.4 324.1,456.4 326.0,458.0 327.9,458.8 328.1,461.2 330.0,462.0 332.0,464.0"/><polyline points="232,352 212,374"/><polyline points="212.0,374.0 213.7,375.0 215.2,376.1 216.0,378.0 217.7,379.6 218.7,381.6 219.0,384.0 220.1,385.8 220.3,388.0 221.0,390.0 223.0,391.6 223.3,394.3 225.0,396.0 225.4,398.2 226.7,400.0 226.3,402.4 228.2,404.3 228.6,406.5 228.2,408.9 226.7,410.6 227.2,413.0 226.0,414.8 224.1,416.8 223.0,419.3 221.5,420.8 220.6,422.8 218.6,423.7 217.1,425.7 216.4,428.1 215.5,430.5 213.4,431.9 211.9,433.3 211.2,435.0 211.2,437.0 211.7,439.6 209.9,441.8 210.4,444.4 210.4,454.4"/><polyline points="162.5,382.1 162.5,386.3 163.0,388.5 161.3,390.4 161.5,392.5 161.1,394.6 161.6,396.8 160.4,398.8 162.5,400.4 164.6,401.9 166.9,402.5 168.8,404.0 167.7,405.7 166.3,407.1 164.6,408.1 162.6,409.6 161.1,411.4 159.5,413.2 158.3,415.4 157.3,417.5 154.8,418.2 153.7,420.1 152.1,421.7 150.9,423.8 148.7,424.7 147.4,426.9 148.2,429.6 148.1,432.1 146.8,434.3 145.1,435.8 145.4,438.3 144.0,440.0 143.8,442.4 143.5,444.8 143.2,447.2 143.0,449.6 142.1,451.6 142.0,453.7 143.3,455.9 143.5,458.0 142.6,460.0 140.2,460.5 138.2,462.0 137.2,464.2 134.6,464.8 133.4,466.8 132.8,469.1 133.0,471.6 132.1,473.8 130.6,475.9 130.5,478.3 132.4,480.2 133.4,481.6 134.4,483.0 134.6,485.0 136.3,486.2 137.2,487.8 137.2,497.4 137.4,499.5 138.0,501.4 139.1,503.2 140.0,505.4 142.4,506.6 143.0,509.0 140.9,509.3 139.5,511.0 139.5,516.0 140.4,518.2 140.2,520.5 141.4,522.6 141.0,525.0 141.0,527.1 142.8,528.8 142.5,531.0 143.0,533.0 143.5,535.5 145.7,537.4 146.0,540.0 146.7,542.4 148.3,544.3 150.0,546.0 150.8,548.0 151.1,550.2 152.9,551.8 153.7,553.8 154.0,556.0 155.7,557.6 155.3,560.4 157.7,561.6 158.0,564.0 159.4,565.8 159.3,568.4 161.0,570.0 162.5,572.0 164.0,574.0"/><polyline points="142.6,460.0 144.6,459.7 146.6,458.8 148.7,459.0 150.7,458.8 152.3,457.9 153.5,456.3 155.9,455.5 158.3,454.7 212.7,454.7 270.2,486.0 270.2,493.5 268.5,494.3 271.0,494.9 272.7,496.8 295.0,512.0"/><polyline points="134.4,483.0 144.9,483.0 146.2,481.4 147.0,479.6 148.7,478.3 151.6,477.3 153.4,476.3 154.4,474.5 161.1,474.5 162.5,473.3 163.0,471.6 163.2,469.3 161.6,467.2 162.1,464.9 160.4,463.2 158.9,461.5 158.3,459.1 157.2,457.3 155.4,456.3"/><polyline points="161.1,474.5 158.6,475.0 156.4,476.4 156.4,484.0 158.2,485.0 160.2,485.0 161.6,486.4 163.0,487.8 162.0,490.0 160.2,491.7 157.9,493.2 156.4,495.5 155.4,497.4 154.0,499.1 153.5,501.2 151.9,503.1 150.9,505.6 148.7,507.0 146.8,507.7 145.2,509.1 143.0,509.0"/><polyline points="164.0,574.0 162.0,572.7 160.0,571.3 158.0,570.0 156.0,569.4 154.0,570.5 152.0,570.1 150.0,569.5 148.1,570.5 146.0,569.9 144.0,570.1 142.0,570.3 140.0,570.5 137.8,571.8 135.2,571.0 133.0,572.0 131.6,573.8 130.3,575.6 130.0,578.0 129.7,580.6 128.0,582.7 127.0,585.0 127.0,592.0 126.8,594.1 127.7,596.0 128.0,598.0 128.5,600.1 127.5,602.0 128.0,604.1 127.0,606.0 127.0,608.3 125.5,610.0 125.2,612.2 124.0,614.0 124.2,616.1 123.5,618.0 122.8,619.9 123.0,622.0 123.3,624.4 125.0,626.0 127.5,627.0 130.0,628.0"/><polyline points="164.0,574.0 166.2,574.2 168.0,575.3 170.0,576.0 171.8,577.4 174.4,577.3 176.0,579.0 177.8,580.4 179.6,581.7 182.0,582.0 183.7,583.4 186.2,582.9 188.0,584.0 190.6,583.9 192.9,584.6 195.0,586.0 196.4,587.4 198.1,588.4 200.0,589.0 201.9,590.1 204.1,589.2 206.0,590.0 208.5,589.5 211.0,589.0 212.4,590.4 214.7,590.3 216.0,592.0 216.7,594.4 219.1,595.7 220.0,598.0 220.7,599.9 220.0,602.1 220.3,604.1 221.0,606.0 221.2,608.0 221.5,610.0 221.8,612.0 222.0,614.0 223.3,616.0 224.7,618.0 226.0,620.0 228.0,622.0 230.1,622.2 231.9,621.0 234.0,621.2 236.0,621.0 238.2,620.4 240.0,619.0 241.5,621.1 244.0,622.0 245.8,623.1 248.3,622.6 250.0,624.0 251.8,622.9 253.8,622.2 256.0,622.0 262.0,622.0 263.7,620.6 265.8,620.2 268.0,620.0 270.5,619.1 272.0,617.0 273.9,617.8 275.9,618.5 278.0,618.0 280.1,617.8 281.9,619.2 284.0,619.0 286.0,618.0 288.2,617.4 290.0,616.0 292.2,615.8 293.8,614.2 296.0,614.0 298.3,614.1 299.8,612.2 302.0,612.0 303.7,610.3 305.6,608.7 308.0,608.0 309.4,606.3 311.3,605.3 313.0,604.0"/><polyline points="196.0,587.0 196.7,589.2 199.3,589.8 200.0,592.0 201.0,594.0 202.4,595.8 203.0,598.0 204.0,600.0 205.0,602.0 206.0,604.0 204.7,605.8 205.0,608.0 204.0,609.7 202.9,611.2 201.0,612.0 201.0,618.0 200.2,619.9 199.8,621.9 200.0,624.0 200.0,626.1 201.0,628.0"/><polyline points="228.0,622.0 222.0,622.0 220.6,623.7 221.1,626.2 220.0,628.0"/><polyline points="7.0,553.0 20.0,553.0 20.0,558.0 18.6,559.8 18.0,562.0 18.7,564.0 19.3,566.0 20.0,568.0 21.0,569.9 20.0,572.1 20.8,574.0 21.0,576.0 20.0,577.9 20.6,580.0 20.9,582.0 19.4,583.9 20.0,586.0 20.3,588.4 22.0,590.0 23.4,591.8 24.7,593.6 25.0,596.0 25.7,598.0 26.8,599.8 27.0,602.0 27.0,610.0 26.0,611.9 26.0,614.0 30.0,614.0 32.2,613.7 34.2,613.0 36.2,612.2 38.0,611.0 40.0,611.2 42.1,610.7 44.1,611.3 46.0,612.0 47.7,610.6 50.2,611.1 52.0,610.0 53.9,611.0 56.0,611.0 56.0,618.0 58.1,618.5 60.1,617.8 62.0,617.0 63.9,615.9 65.9,615.5 68.0,616.0 70.0,616.3 72.1,616.5 74.0,615.5 74.0,617.9 75.0,620.0 76.4,621.7 78.6,622.3 80.0,624.0 82.2,623.7 84.1,624.5 86.1,625.0 88.0,626.0 96.0,626.0 97.0,624.3 99.2,623.9 100.0,622.0 101.8,620.7 104.0,621.0 105.1,622.9 107.0,624.0 108.3,625.8 108.0,628.0"/><polyline points="54.0,611.0 54.0,620.0 53.0,621.9 54.3,624.1 54.0,626.1 53.0,628.0"/><polyline points="293.8,530.0 295.5,528.9 297.5,528.8 298.6,530.5 298.0,532.8 300.1,534.1 300.0,536.2 299.4,538.1 298.8,540.0 296.9,539.8 295.5,538.8 294.6,536.2 293.8,533.8 293.8,530.0"/><polyline points="358.0,619.0 361.0,619.0 360.7,621.2 362.0,623.0 361.0,624.9 361.0,627.0 359.0,627.0 357.7,625.2 358.0,623.0 358.0,619.0"/></g><g fill="#000"><polygon points="305.4,182.4 307.7,180.7 310.6,181.2 311.2,185.9 310.6,189.4 312.3,191.7 308.3,192.2 306.0,189.4 306.6,184.7"/><polygon points="308.3,177.2 310.0,177.2 310.0,178.9 308.3,178.9"/><polygon points="303.1,180.1 306.0,180.1 306.0,181.8 303.1,181.8"/><polygon points="297.3,183.6 299.0,183.6 299.0,184.7 297.3,184.7"/><polygon points="299.6,186.5 301.4,186.5 301.4,187.6 299.6,187.6"/><polygon points="294.4,176.0 296.7,176.0 296.7,176.9 294.4,176.9"/><polygon points="312.9,188.2 314.7,188.2 314.7,189.9 312.9,189.9"/><polygon points="315.8,187.0 317.6,187.0 317.6,188.8 315.8,188.8"/><polygon points="316.4,190.5 318.7,190.5 318.7,192.2 316.4,192.2"/><polygon points="317.6,194.0 319.3,194.0 319.3,196.3 317.6,196.3"/><polygon points="321.0,191.7 322.2,191.7 322.2,193.4 321.0,193.4"/><polygon points="323.3,194.6 324.5,194.6 324.5,195.7 323.3,195.7"/><polygon points="326.2,196.9 328.0,196.9 328.0,197.7 326.2,197.7"/><polygon points="311.8,192.8 314.1,192.8 314.1,194.6 311.8,194.6"/><polygon points="301.4,195.7 303.7,195.7 303.7,197.5 301.4,197.5"/><polygon points="301.9,198.6 304.2,198.6 304.2,200.9 301.9,200.9"/><polygon points="309.5,197.5 311.8,197.5 311.8,200.9 309.5,200.9"/><polygon points="349,232 353,231 355,234 354,237 350,236"/><polygon points="318,470 322,466 326,464 329,466 326,469 324,473 320,475"/><polygon points="300,516 304,514 305,520 302,525 300,522"/><polygon points="481,272.6 485.5,273 486.5,275.4 481,275"/><polygon points="250,83 253,84 256,88 254,88.5 251,85.5"/><polygon points="260,101 264.5,105 263.5,111 261.5,108"/><polygon points="268,134 271,134 271,135.5 268,135.5"/><polygon points="300,563 304,560 306,558 305,562 302,565"/><polygon points="404,585 410,585 410,588 404,588"/><polygon points="409,591 411,591 411,593 409,593"/><polygon points="426,592 428,592 428,595 426,595"/><polygon points="478,583 481,583 481,585 478,585"/><polygon points="483,597 485,597 485,599 483,599"/></g></svg>
<div class="t1">WRSI Current</div>
<div class="t2">May 2016 Dekad 2</div>
<div class="lh" style="top:361px">CROP WRSI</div>
<div class="lh" style="top:381px">range:2016-05-2</div>
<div class="sw" style="top:405px;background:#ff6622"></div><div class="lt" style="top:406px">&lt; 50&nbsp; Failure</div><div class="sw" style="top:426px;background:#cda033"></div><div class="lt" style="top:427px">50-59 Poor</div><div class="sw" style="top:447px;background:#f8ffc8"></div><div class="lt" style="top:448px">60-79 Mediocre</div><div class="sw" style="top:468px;background:#beff32"></div><div class="lt" style="top:469px">80-94 Average</div><div class="sw" style="top:489px;background:#32dc00"></div><div class="lt" style="top:490px">95-99 Good</div><div class="sw" style="top:511px;background:#00a83a"></div><div class="lt" style="top:512px">100 Very Good</div><div class="sw" style="top:532px;background:#ffaad2"></div><div class="lt" style="top:533px">No Start (late)</div><div class="sw" style="top:553px;background:#80ffee"></div><div class="lt" style="top:554px">Yet to Start</div>
<div class="ft">Map produced by USGS/EROS</div>

<svg width="624" height="648" viewBox="0 0 624 648" style="position:absolute;left:0;top:0">
<!-- USGS -->
<g>
<rect x="373.2" y="622" width="14.1" height="13.6" fill="#0a7a46"/>
<path d="M373.2 625.4 L387.4 631.1 M373.2 627 L387.4 632.4 M373.2 628.6 L387.4 633.7" fill="none" stroke="#fff" stroke-width="0.75"/>
<path d="M373.2 630.6 L387.4 624.4 M373.2 629.3 L387.4 626.3 M373.2 631.9 L380 629.4 L387.4 628.2" fill="none" stroke="#fff" stroke-width="0.75"/>
<text x="389.8" y="635.6" font-family="'Liberation Sans',Arial,sans-serif" font-weight="bold" font-size="19" fill="#0a7a46" stroke="#0a7a46" stroke-width="0.45" textLength="38.2" lengthAdjust="spacingAndGlyphs">USGS</text>
<text x="373.4" y="641" font-family="'Liberation Sans',Arial,sans-serif" font-style="italic" font-weight="bold" font-size="4.6" fill="#0a7a46" textLength="54" lengthAdjust="spacingAndGlyphs">science for a changing world</text>
</g>
<!-- NOAA -->
<g>
<circle cx="443.6" cy="630.6" r="11.9" fill="#fff" stroke="#9298b8" stroke-width="0.5" stroke-dasharray="0.8 0.5"/>
<circle cx="443.6" cy="630.6" r="10.4" fill="#1a9cf5"/>
<path d="M435.6 623.9 A10.4 10.4 0 0 1 451.6 623.9 C449.5 628 446.5 631 443.4 632.9 C440.5 631 438 628 435.6 623.9 Z" fill="#10106e"/>
<path d="M433.3 626.2 C435 625.2 436 624.8 436.4 624.4 C438.5 628.5 441 631 443.4 632.4 C447 630 450 627 453.2 625 L453.5 626 C450 629.5 447.5 632.5 445.4 633.6 C443.5 634.6 441.8 634.7 440.9 634 C441.8 633.7 442.5 633.6 442.9 633.3 C439 631.5 436 629 433.2 627.2 Z" fill="#fff"/>
<text x="443.5" y="627" text-anchor="middle" font-family="'Liberation Sans',Arial,sans-serif" font-weight="bold" font-size="3.6" fill="#e8e8f4">NOAA</text>
</g>
<!-- USAID seal -->
<g>
<circle cx="473.4" cy="630.3" r="10.9" fill="#fff" stroke="#4a6ab8" stroke-width="0.7"/>
<circle cx="473.4" cy="630.3" r="9.3" fill="none" stroke="#b4c2ea" stroke-width="1.7" stroke-dasharray="1.1 0.5"/>
<circle cx="473.4" cy="630.3" r="7.7" fill="#fff" stroke="#4a6ab8" stroke-width="0.4"/>
<path d="M468.3 624 H478.6 V633.5 C478.6 636 476 637.6 473.4 638.2 C470.8 637.6 468.3 636 468.3 633.5 Z" fill="#fff"/>
<rect x="468.3" y="624" width="10.3" height="3.2" fill="#2a4aa8"/>
<text x="473.45" y="626.7" text-anchor="middle" font-family="'Liberation Sans',Arial,sans-serif" font-weight="bold" font-size="2.6" fill="#fff">USAID</text>
<path d="M469 629.4 H478 M469.5 630.6 H477.5" stroke="#333a55" stroke-width="0.8"/>
<path d="M468.8 632.6 H478.1 L477.6 634.2 H469.3 Z" fill="#d0284a"/>
<path d="M469.6 634.8 H477.3 L475.6 636.6 H471.2 Z" fill="#2a4aa8"/>
<path d="M471.8 637 H475 L473.4 638 Z" fill="#d0284a"/>
</g>
<!-- USAID text -->
<g font-family="'Liberation Sans',Arial,sans-serif" font-weight="bold">
<text x="486.5" y="634" font-size="14.7" fill="#12338f" textLength="23.6" lengthAdjust="spacingAndGlyphs">US</text>
<text x="510.4" y="634" font-size="14.7" fill="#c8103c" textLength="27.4" lengthAdjust="spacingAndGlyphs">AID</text>
<text x="486.8" y="638.9" font-size="3.6" fill="#2a4aa8" textLength="50.2" lengthAdjust="spacingAndGlyphs">FROM THE AMERICAN PEOPLE</text>
</g>
<!-- FEWS NET -->
<g>
<circle cx="551.8" cy="629.6" r="10.6" fill="#fff" stroke="#d9691e" stroke-width="1.3"/>
<circle cx="551.8" cy="629.6" r="8.9" fill="#e4f0e2" stroke="#d9691e" stroke-width="0.5"/>
<rect x="540" y="627.4" width="2.2" height="2.4" fill="#fff"/>
<path d="M544.5 624 C546 622.8 548.5 622.6 550.2 623.4 L550.6 626 L548.6 628.6 L546 629.2 L544.2 627 Z" fill="#1a7c3c"/>
<path d="M548 630.3 L551 630.5 L551.6 633 L550 636.2 L548.7 634 Z" fill="#1a7c3c"/>
<path d="M551.6 625.4 L555 624.4 L559.3 626 L559.6 629 L557.2 630 L558 632 L555.5 635.6 L554 633 L552.5 630.5 L551.8 628 Z" fill="#1a7c3c"/>
<path d="M553.5 622.4 L556.5 622.8 L556 623.8 L553.8 623.6 Z" fill="#2a8a48"/>
<path d="M560.6 633.3 H615.6" stroke="#d9691e" stroke-width="0.9"/>
<text x="564.2" y="631.7" font-family="'Liberation Serif','Times New Roman',serif" font-weight="bold" font-size="12.3" fill="#b3561d" textLength="51" lengthAdjust="spacingAndGlyphs">FEWS NET</text>
<text x="563.6" y="637.5" font-family="'Liberation Sans',Arial,sans-serif" font-weight="bold" font-size="2.9" fill="#8a4a22" textLength="51.4" lengthAdjust="spacingAndGlyphs">FAMINE EARLY WARNING SYSTEMS NETWORK</text>
</g>
</svg>

</body></html>
